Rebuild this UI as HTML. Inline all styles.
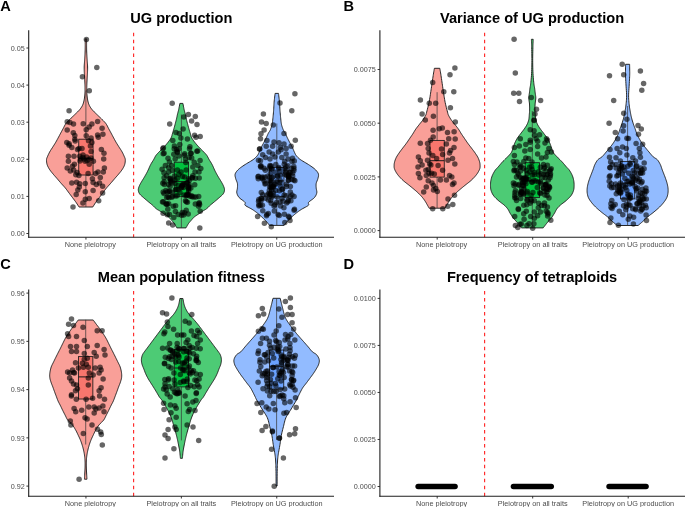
<!DOCTYPE html>
<html><head><meta charset="utf-8"><style>
html,body{margin:0;padding:0;background:#fff;}
body{width:685px;height:507px;overflow:hidden;font-family:"Liberation Sans",sans-serif;}
svg{display:block;}
text{will-change:transform;}
</style></head><body>
<svg width="685" height="507" viewBox="0 0 685 507">
<rect width="685" height="507" fill="#fff"/>
<text x="181.3" y="22.9" font-family="Liberation Sans" font-weight="bold" font-size="14.6" text-anchor="middle" fill="#000">UG production</text>
<text x="0.3" y="10.9" font-family="Liberation Sans" font-weight="bold" font-size="14.6" fill="#000">A</text>
<line x1="133.62" y1="32.7" x2="133.62" y2="237.3" stroke="#ff1f1f" stroke-width="1.1" stroke-dasharray="3.5 3.45"/>
<path d="M86.70,38.90 L86.69,39.21 L86.67,39.60 L86.65,40.09 L86.63,40.65 L86.61,41.29 L86.60,42.00 L86.59,42.80 L86.59,43.71 L86.58,44.69 L86.58,45.72 L86.59,46.77 L86.60,47.80 L86.62,48.83 L86.64,49.89 L86.67,50.96 L86.71,52.04 L86.75,53.13 L86.80,54.20 L86.86,55.27 L86.92,56.33 L86.99,57.40 L87.06,58.47 L87.13,59.53 L87.20,60.60 L87.27,61.67 L87.35,62.73 L87.43,63.79 L87.51,64.86 L87.57,65.93 L87.60,67.00 L87.61,68.08 L87.60,69.16 L87.58,70.25 L87.54,71.34 L87.50,72.42 L87.45,73.50 L87.40,74.57 L87.33,75.64 L87.26,76.71 L87.18,77.77 L87.11,78.83 L87.05,79.90 L87.00,80.97 L86.94,82.03 L86.90,83.10 L86.86,84.17 L86.82,85.23 L86.80,86.30 L86.78,87.37 L86.77,88.43 L86.77,89.50 L86.78,90.57 L86.80,91.63 L86.85,92.70 L86.91,93.78 L86.99,94.86 L87.08,95.95 L87.20,97.03 L87.34,98.08 L87.50,99.10 L87.68,100.09 L87.88,101.06 L88.10,102.00 L88.36,102.92 L88.65,103.82 L89.00,104.70 L89.39,105.55 L89.83,106.36 L90.31,107.16 L90.83,107.94 L91.39,108.72 L92.00,109.50 L92.67,110.29 L93.40,111.07 L94.18,111.86 L94.99,112.64 L95.80,113.42 L96.60,114.20 L97.41,114.98 L98.23,115.77 L99.06,116.55 L99.89,117.33 L100.71,118.12 L101.50,118.90 L102.28,119.68 L103.07,120.46 L103.84,121.24 L104.58,122.03 L105.27,122.81 L105.90,123.60 L106.44,124.40 L106.92,125.20 L107.34,126.00 L107.74,126.80 L108.13,127.60 L108.55,128.40 L108.98,129.19 L109.41,129.97 L109.83,130.76 L110.26,131.54 L110.68,132.32 L111.10,133.10 L111.52,133.88 L111.93,134.66 L112.34,135.44 L112.76,136.23 L113.18,137.01 L113.60,137.80 L114.03,138.60 L114.46,139.40 L114.90,140.20 L115.34,141.00 L115.79,141.80 L116.25,142.60 L116.72,143.39 L117.21,144.17 L117.71,144.96 L118.21,145.74 L118.70,146.52 L119.20,147.30 L119.70,148.08 L120.21,148.86 L120.72,149.64 L121.22,150.43 L121.70,151.21 L122.15,152.00 L122.58,152.82 L123.00,153.66 L123.40,154.51 L123.78,155.34 L124.11,156.11 L124.40,156.80 L124.65,157.37 L124.86,157.84 L125.03,158.25 L125.16,158.66 L125.25,159.13 L125.30,159.70 L125.31,160.39 L125.27,161.16 L125.20,161.99 L125.08,162.84 L124.92,163.68 L124.70,164.50 L124.43,165.29 L124.11,166.07 L123.74,166.86 L123.33,167.64 L122.88,168.42 L122.40,169.20 L121.88,169.98 L121.31,170.77 L120.71,171.55 L120.09,172.33 L119.44,173.12 L118.80,173.90 L118.15,174.68 L117.47,175.46 L116.78,176.24 L116.09,177.03 L115.39,177.81 L114.70,178.60 L114.02,179.40 L113.34,180.20 L112.66,181.00 L111.97,181.80 L111.29,182.60 L110.60,183.40 L109.90,184.19 L109.18,184.97 L108.46,185.76 L107.75,186.54 L107.06,187.32 L106.40,188.10 L105.78,188.88 L105.19,189.66 L104.61,190.44 L104.05,191.23 L103.48,192.01 L102.90,192.80 L102.30,193.60 L101.70,194.40 L101.10,195.20 L100.50,196.00 L99.90,196.80 L99.30,197.60 L98.71,198.39 L98.11,199.17 L97.51,199.96 L96.93,200.74 L96.35,201.52 L95.80,202.30 L95.24,203.14 L94.65,204.04 L94.08,204.94 L93.56,205.78 L93.12,206.49 L92.80,207.00 L79.00,207.00 L78.68,206.49 L78.24,205.78 L77.72,204.94 L77.15,204.04 L76.56,203.14 L76.00,202.30 L75.45,201.52 L74.87,200.74 L74.29,199.96 L73.69,199.17 L73.09,198.39 L72.50,197.60 L71.90,196.80 L71.30,196.00 L70.70,195.20 L70.10,194.40 L69.50,193.60 L68.90,192.80 L68.32,192.01 L67.75,191.23 L67.19,190.44 L66.61,189.66 L66.02,188.88 L65.40,188.10 L64.74,187.32 L64.05,186.54 L63.34,185.76 L62.62,184.97 L61.90,184.19 L61.20,183.40 L60.51,182.60 L59.83,181.80 L59.14,181.00 L58.46,180.20 L57.78,179.40 L57.10,178.60 L56.41,177.81 L55.71,177.03 L55.02,176.24 L54.33,175.46 L53.65,174.68 L53.00,173.90 L52.36,173.12 L51.71,172.33 L51.09,171.55 L50.49,170.77 L49.92,169.98 L49.40,169.20 L48.92,168.42 L48.47,167.64 L48.06,166.86 L47.69,166.07 L47.37,165.29 L47.10,164.50 L46.88,163.68 L46.72,162.84 L46.60,161.99 L46.53,161.16 L46.49,160.39 L46.50,159.70 L46.55,159.13 L46.64,158.66 L46.77,158.25 L46.94,157.84 L47.15,157.37 L47.40,156.80 L47.69,156.11 L48.02,155.34 L48.40,154.51 L48.80,153.66 L49.22,152.82 L49.65,152.00 L50.10,151.21 L50.58,150.43 L51.08,149.64 L51.59,148.86 L52.10,148.08 L52.60,147.30 L53.10,146.52 L53.59,145.74 L54.09,144.96 L54.59,144.17 L55.08,143.39 L55.55,142.60 L56.01,141.80 L56.46,141.00 L56.90,140.20 L57.34,139.40 L57.77,138.60 L58.20,137.80 L58.62,137.01 L59.04,136.23 L59.46,135.44 L59.87,134.66 L60.28,133.88 L60.70,133.10 L61.12,132.32 L61.54,131.54 L61.97,130.76 L62.39,129.97 L62.82,129.19 L63.25,128.40 L63.67,127.60 L64.06,126.80 L64.46,126.00 L64.88,125.20 L65.36,124.40 L65.90,123.60 L66.53,122.81 L67.22,122.03 L67.96,121.24 L68.73,120.46 L69.52,119.68 L70.30,118.90 L71.09,118.12 L71.91,117.33 L72.74,116.55 L73.57,115.77 L74.39,114.98 L75.20,114.20 L76.00,113.42 L76.81,112.64 L77.62,111.86 L78.40,111.07 L79.13,110.29 L79.80,109.50 L80.41,108.72 L80.97,107.94 L81.49,107.16 L81.97,106.36 L82.41,105.55 L82.80,104.70 L83.15,103.82 L83.44,102.92 L83.70,102.00 L83.92,101.06 L84.12,100.09 L84.30,99.10 L84.46,98.08 L84.60,97.03 L84.72,95.95 L84.81,94.86 L84.89,93.78 L84.95,92.70 L85.00,91.63 L85.02,90.57 L85.03,89.50 L85.03,88.43 L85.02,87.37 L85.00,86.30 L84.98,85.23 L84.94,84.17 L84.90,83.10 L84.86,82.03 L84.80,80.97 L84.75,79.90 L84.69,78.83 L84.62,77.77 L84.54,76.71 L84.47,75.64 L84.40,74.57 L84.35,73.50 L84.30,72.42 L84.26,71.34 L84.23,70.25 L84.20,69.16 L84.19,68.08 L84.20,67.00 L84.23,65.93 L84.29,64.86 L84.37,63.79 L84.45,62.73 L84.53,61.67 L84.60,60.60 L84.67,59.53 L84.74,58.47 L84.81,57.40 L84.88,56.33 L84.94,55.27 L85.00,54.20 L85.05,53.13 L85.09,52.04 L85.13,50.96 L85.16,49.89 L85.18,48.83 L85.20,47.80 L85.21,46.77 L85.22,45.72 L85.22,44.69 L85.21,43.71 L85.21,42.80 L85.20,42.00 L85.19,41.29 L85.17,40.65 L85.15,40.09 L85.13,39.60 L85.11,39.21 L85.10,38.90 Z" fill="#F99F98" stroke="#1e1e1e" stroke-width="0.95" stroke-linejoin="round"/>
<line x1="85.90" y1="90.5" x2="85.90" y2="207" stroke="#333" stroke-width="0.7"/>
<rect x="78.75" y="139.2" width="14.30" height="35.80" fill="#F8766D" stroke="#1a1a1a" stroke-width="0.85"/>
<line x1="78.75" y1="158.4" x2="93.05" y2="158.4" stroke="#1a1a1a" stroke-width="1.0"/>
<path d="M182.90,103.40 L183.03,104.08 L183.21,105.03 L183.42,106.16 L183.66,107.34 L183.89,108.49 L184.10,109.50 L184.30,110.36 L184.51,111.17 L184.71,111.94 L184.91,112.69 L185.11,113.43 L185.30,114.20 L185.48,114.98 L185.64,115.77 L185.80,116.55 L185.96,117.33 L186.12,118.12 L186.30,118.90 L186.49,119.68 L186.68,120.46 L186.88,121.24 L187.09,122.03 L187.29,122.81 L187.50,123.60 L187.71,124.40 L187.92,125.20 L188.14,126.00 L188.36,126.80 L188.58,127.60 L188.80,128.40 L189.03,129.19 L189.26,129.97 L189.49,130.76 L189.72,131.54 L189.96,132.32 L190.20,133.10 L190.42,133.88 L190.63,134.66 L190.83,135.44 L191.06,136.23 L191.34,137.01 L191.70,137.80 L192.14,138.60 L192.64,139.40 L193.19,140.20 L193.77,141.00 L194.38,141.80 L195.00,142.60 L195.63,143.39 L196.29,144.17 L196.96,144.96 L197.66,145.74 L198.37,146.52 L199.10,147.30 L199.87,148.10 L200.68,148.91 L201.51,149.73 L202.33,150.52 L203.10,151.29 L203.80,152.00 L204.42,152.64 L204.98,153.23 L205.50,153.78 L205.99,154.33 L206.45,154.89 L206.90,155.50 L207.32,156.15 L207.70,156.83 L208.06,157.52 L208.42,158.23 L208.79,158.96 L209.20,159.70 L209.65,160.46 L210.14,161.23 L210.64,162.02 L211.14,162.83 L211.63,163.65 L212.10,164.50 L212.55,165.39 L212.98,166.34 L213.41,167.31 L213.82,168.26 L214.22,169.17 L214.60,170.00 L214.96,170.74 L215.29,171.41 L215.61,172.04 L215.93,172.65 L216.26,173.26 L216.60,173.90 L216.96,174.56 L217.34,175.23 L217.73,175.90 L218.11,176.57 L218.51,177.24 L218.90,177.90 L219.30,178.55 L219.70,179.20 L220.11,179.85 L220.52,180.50 L220.92,181.15 L221.30,181.80 L221.68,182.46 L222.06,183.13 L222.43,183.80 L222.79,184.47 L223.11,185.14 L223.40,185.80 L223.67,186.45 L223.93,187.10 L224.16,187.75 L224.34,188.40 L224.46,189.05 L224.50,189.70 L224.47,190.36 L224.37,191.03 L224.22,191.70 L223.99,192.37 L223.69,193.04 L223.30,193.70 L222.80,194.35 L222.20,195.00 L221.52,195.65 L220.79,196.30 L220.04,196.95 L219.30,197.60 L218.56,198.26 L217.79,198.93 L216.99,199.60 L216.19,200.27 L215.39,200.94 L214.60,201.60 L213.79,202.28 L212.93,202.97 L212.08,203.67 L211.27,204.34 L210.53,204.96 L209.90,205.50 L209.42,205.96 L209.05,206.34 L208.76,206.67 L208.50,206.98 L208.23,207.28 L207.90,207.60 L207.52,207.94 L207.13,208.27 L206.72,208.60 L206.31,208.92 L205.90,209.22 L205.50,209.50 L205.14,209.73 L204.81,209.91 L204.48,210.08 L204.13,210.26 L203.71,210.49 L203.20,210.80 L202.58,211.21 L201.87,211.70 L201.09,212.23 L200.29,212.79 L199.48,213.36 L198.70,213.90 L197.92,214.43 L197.11,214.96 L196.30,215.49 L195.51,216.03 L194.77,216.57 L194.10,217.10 L193.51,217.63 L193.00,218.17 L192.53,218.71 L192.08,219.24 L191.65,219.77 L191.20,220.30 L190.74,220.82 L190.29,221.34 L189.84,221.85 L189.40,222.36 L188.99,222.88 L188.60,223.40 L188.23,223.95 L187.87,224.53 L187.53,225.11 L187.22,225.67 L186.94,226.18 L186.70,226.60 L186.51,226.94 L186.35,227.22 L186.23,227.45 L186.14,227.63 L186.06,227.78 L186.00,227.90 L176.80,227.90 L176.74,227.78 L176.66,227.63 L176.57,227.45 L176.45,227.22 L176.29,226.94 L176.10,226.60 L175.86,226.18 L175.58,225.67 L175.27,225.11 L174.93,224.53 L174.57,223.95 L174.20,223.40 L173.81,222.88 L173.40,222.36 L172.96,221.85 L172.51,221.34 L172.06,220.82 L171.60,220.30 L171.15,219.77 L170.72,219.24 L170.28,218.71 L169.80,218.17 L169.29,217.63 L168.70,217.10 L168.03,216.57 L167.29,216.03 L166.50,215.49 L165.69,214.96 L164.88,214.43 L164.10,213.90 L163.32,213.36 L162.51,212.79 L161.71,212.23 L160.93,211.70 L160.22,211.21 L159.60,210.80 L159.09,210.49 L158.67,210.26 L158.32,210.08 L157.99,209.91 L157.66,209.73 L157.30,209.50 L156.90,209.22 L156.49,208.92 L156.08,208.60 L155.67,208.27 L155.28,207.94 L154.90,207.60 L154.57,207.28 L154.30,206.98 L154.04,206.67 L153.75,206.34 L153.38,205.96 L152.90,205.50 L152.27,204.96 L151.53,204.34 L150.72,203.67 L149.87,202.97 L149.01,202.28 L148.20,201.60 L147.41,200.94 L146.61,200.27 L145.81,199.60 L145.01,198.93 L144.24,198.26 L143.50,197.60 L142.76,196.95 L142.01,196.30 L141.28,195.65 L140.60,195.00 L140.00,194.35 L139.50,193.70 L139.11,193.04 L138.81,192.37 L138.58,191.70 L138.43,191.03 L138.33,190.36 L138.30,189.70 L138.34,189.05 L138.46,188.40 L138.64,187.75 L138.87,187.10 L139.13,186.45 L139.40,185.80 L139.69,185.14 L140.01,184.47 L140.37,183.80 L140.74,183.13 L141.12,182.46 L141.50,181.80 L141.88,181.15 L142.28,180.50 L142.69,179.85 L143.10,179.20 L143.50,178.55 L143.90,177.90 L144.29,177.24 L144.69,176.57 L145.07,175.90 L145.46,175.23 L145.84,174.56 L146.20,173.90 L146.54,173.26 L146.87,172.65 L147.19,172.04 L147.51,171.41 L147.84,170.74 L148.20,170.00 L148.58,169.17 L148.98,168.26 L149.39,167.31 L149.82,166.34 L150.25,165.39 L150.70,164.50 L151.17,163.65 L151.66,162.83 L152.16,162.02 L152.66,161.23 L153.15,160.46 L153.60,159.70 L154.01,158.96 L154.38,158.23 L154.74,157.52 L155.10,156.83 L155.48,156.15 L155.90,155.50 L156.35,154.89 L156.81,154.33 L157.30,153.78 L157.82,153.23 L158.38,152.64 L159.00,152.00 L159.70,151.29 L160.47,150.52 L161.29,149.73 L162.12,148.91 L162.93,148.10 L163.70,147.30 L164.43,146.52 L165.14,145.74 L165.84,144.96 L166.51,144.17 L167.17,143.39 L167.80,142.60 L168.42,141.80 L169.03,141.00 L169.61,140.20 L170.16,139.40 L170.66,138.60 L171.10,137.80 L171.46,137.01 L171.74,136.23 L171.97,135.44 L172.17,134.66 L172.38,133.88 L172.60,133.10 L172.84,132.32 L173.08,131.54 L173.31,130.76 L173.54,129.97 L173.77,129.19 L174.00,128.40 L174.22,127.60 L174.44,126.80 L174.66,126.00 L174.88,125.20 L175.09,124.40 L175.30,123.60 L175.51,122.81 L175.71,122.03 L175.92,121.24 L176.12,120.46 L176.31,119.68 L176.50,118.90 L176.68,118.12 L176.84,117.33 L177.00,116.55 L177.16,115.77 L177.32,114.98 L177.50,114.20 L177.69,113.43 L177.89,112.69 L178.09,111.94 L178.29,111.17 L178.50,110.36 L178.70,109.50 L178.91,108.49 L179.14,107.34 L179.38,106.16 L179.59,105.03 L179.77,104.08 L179.90,103.40 Z" fill="#4DCB75" stroke="#1e1e1e" stroke-width="0.95" stroke-linejoin="round"/>
<line x1="181.40" y1="114.5" x2="181.40" y2="228" stroke="#333" stroke-width="0.7"/>
<rect x="174.25" y="162.2" width="14.30" height="34.10" fill="#00C23D" stroke="#1a1a1a" stroke-width="0.85"/>
<line x1="174.25" y1="181.6" x2="188.55" y2="181.6" stroke="#1a1a1a" stroke-width="1.0"/>
<path d="M278.50,93.40 L278.51,93.52 L278.53,93.64 L278.55,93.81 L278.58,94.07 L278.63,94.48 L278.70,95.10 L278.80,95.97 L278.94,97.07 L279.09,98.31 L279.24,99.63 L279.38,100.95 L279.50,102.20 L279.59,103.38 L279.66,104.57 L279.71,105.75 L279.77,106.93 L279.83,108.12 L279.90,109.30 L279.99,110.48 L280.08,111.67 L280.18,112.85 L280.28,114.03 L280.39,115.22 L280.50,116.40 L280.62,117.62 L280.75,118.90 L280.88,120.18 L281.02,121.40 L281.16,122.53 L281.30,123.50 L281.44,124.29 L281.57,124.93 L281.71,125.47 L281.86,125.96 L282.02,126.45 L282.20,127.00 L282.40,127.61 L282.62,128.23 L282.86,128.86 L283.10,129.48 L283.35,130.06 L283.60,130.60 L283.85,131.06 L284.10,131.44 L284.36,131.79 L284.62,132.15 L284.90,132.57 L285.20,133.10 L285.52,133.74 L285.85,134.47 L286.19,135.25 L286.55,136.07 L286.92,136.89 L287.30,137.70 L287.69,138.50 L288.10,139.32 L288.53,140.14 L288.95,140.97 L289.38,141.79 L289.80,142.60 L290.22,143.40 L290.65,144.19 L291.08,144.97 L291.50,145.75 L291.91,146.52 L292.30,147.30 L292.66,148.08 L293.01,148.88 L293.34,149.67 L293.66,150.44 L293.98,151.19 L294.30,151.90 L294.60,152.55 L294.86,153.16 L295.11,153.73 L295.40,154.30 L295.75,154.88 L296.20,155.50 L296.72,156.15 L297.29,156.80 L297.92,157.47 L298.63,158.16 L299.45,158.86 L300.40,159.60 L301.53,160.37 L302.84,161.18 L304.26,162.01 L305.70,162.85 L307.11,163.69 L308.40,164.50 L309.60,165.29 L310.79,166.08 L311.93,166.86 L313.01,167.64 L314.01,168.42 L314.90,169.20 L315.70,169.98 L316.44,170.77 L317.09,171.55 L317.64,172.33 L318.08,173.12 L318.40,173.90 L318.56,174.68 L318.57,175.46 L318.48,176.24 L318.30,177.03 L318.10,177.81 L317.90,178.60 L317.67,179.40 L317.36,180.20 L317.02,181.00 L316.69,181.80 L316.40,182.60 L316.20,183.40 L316.09,184.19 L316.05,184.97 L316.06,185.76 L316.09,186.54 L316.15,187.32 L316.20,188.10 L316.30,188.88 L316.47,189.66 L316.65,190.44 L316.80,191.23 L316.87,192.01 L316.80,192.80 L316.61,193.60 L316.35,194.40 L316.00,195.20 L315.56,196.00 L315.03,196.80 L314.40,197.60 L313.57,198.41 L312.51,199.24 L311.36,200.06 L310.24,200.86 L309.28,201.62 L308.60,202.30 L308.32,202.89 L308.36,203.39 L308.56,203.85 L308.74,204.30 L308.74,204.77 L308.40,205.30 L307.64,205.91 L306.57,206.56 L305.32,207.24 L304.02,207.92 L302.77,208.58 L301.70,209.20 L300.80,209.78 L299.98,210.32 L299.21,210.85 L298.49,211.37 L297.79,211.88 L297.10,212.40 L296.43,212.92 L295.79,213.44 L295.18,213.95 L294.58,214.46 L293.99,214.98 L293.40,215.50 L292.81,216.03 L292.23,216.56 L291.66,217.10 L291.10,217.64 L290.55,218.17 L290.00,218.70 L289.46,219.22 L288.93,219.72 L288.41,220.22 L287.90,220.73 L287.40,221.26 L286.90,221.80 L286.38,222.41 L285.84,223.10 L285.31,223.79 L284.81,224.45 L284.40,225.00 L284.10,225.40 L269.50,225.40 L269.20,225.00 L268.79,224.45 L268.29,223.79 L267.76,223.10 L267.22,222.41 L266.70,221.80 L266.20,221.26 L265.70,220.73 L265.19,220.22 L264.67,219.72 L264.14,219.22 L263.60,218.70 L263.05,218.17 L262.50,217.64 L261.94,217.10 L261.37,216.56 L260.79,216.03 L260.20,215.50 L259.61,214.98 L259.02,214.46 L258.42,213.95 L257.81,213.44 L257.17,212.92 L256.50,212.40 L255.81,211.88 L255.11,211.37 L254.39,210.85 L253.62,210.32 L252.80,209.78 L251.90,209.20 L250.83,208.58 L249.58,207.92 L248.28,207.24 L247.03,206.56 L245.96,205.91 L245.20,205.30 L244.86,204.77 L244.86,204.30 L245.04,203.85 L245.24,203.39 L245.28,202.89 L245.00,202.30 L244.32,201.62 L243.36,200.86 L242.24,200.06 L241.09,199.24 L240.03,198.41 L239.20,197.60 L238.57,196.80 L238.04,196.00 L237.60,195.20 L237.25,194.40 L236.99,193.60 L236.80,192.80 L236.73,192.01 L236.80,191.23 L236.95,190.44 L237.13,189.66 L237.30,188.88 L237.40,188.10 L237.45,187.32 L237.51,186.54 L237.54,185.76 L237.55,184.97 L237.51,184.19 L237.40,183.40 L237.20,182.60 L236.91,181.80 L236.58,181.00 L236.24,180.20 L235.93,179.40 L235.70,178.60 L235.50,177.81 L235.30,177.03 L235.12,176.24 L235.03,175.46 L235.04,174.68 L235.20,173.90 L235.52,173.12 L235.96,172.33 L236.51,171.55 L237.16,170.77 L237.90,169.98 L238.70,169.20 L239.59,168.42 L240.59,167.64 L241.67,166.86 L242.81,166.08 L244.00,165.29 L245.20,164.50 L246.49,163.69 L247.90,162.85 L249.34,162.01 L250.76,161.18 L252.07,160.37 L253.20,159.60 L254.15,158.86 L254.97,158.16 L255.68,157.47 L256.31,156.80 L256.88,156.15 L257.40,155.50 L257.85,154.88 L258.20,154.30 L258.49,153.73 L258.74,153.16 L259.00,152.55 L259.30,151.90 L259.62,151.19 L259.94,150.44 L260.26,149.67 L260.59,148.88 L260.94,148.08 L261.30,147.30 L261.69,146.52 L262.10,145.75 L262.52,144.97 L262.95,144.19 L263.38,143.40 L263.80,142.60 L264.22,141.79 L264.65,140.97 L265.07,140.14 L265.50,139.32 L265.91,138.50 L266.30,137.70 L266.68,136.89 L267.05,136.07 L267.41,135.25 L267.75,134.47 L268.08,133.74 L268.40,133.10 L268.70,132.57 L268.98,132.15 L269.24,131.79 L269.50,131.44 L269.75,131.06 L270.00,130.60 L270.25,130.06 L270.50,129.48 L270.74,128.86 L270.98,128.23 L271.20,127.61 L271.40,127.00 L271.58,126.45 L271.74,125.96 L271.89,125.47 L272.03,124.93 L272.16,124.29 L272.30,123.50 L272.44,122.53 L272.58,121.40 L272.72,120.18 L272.85,118.90 L272.98,117.62 L273.10,116.40 L273.21,115.22 L273.32,114.03 L273.43,112.85 L273.52,111.67 L273.61,110.48 L273.70,109.30 L273.77,108.12 L273.83,106.93 L273.89,105.75 L273.94,104.57 L274.01,103.38 L274.10,102.20 L274.22,100.95 L274.36,99.63 L274.51,98.31 L274.66,97.07 L274.80,95.97 L274.90,95.10 L274.97,94.48 L275.02,94.07 L275.05,93.81 L275.07,93.64 L275.09,93.52 L275.10,93.40 Z" fill="#92BBFF" stroke="#1e1e1e" stroke-width="0.95" stroke-linejoin="round"/>
<line x1="276.80" y1="123.5" x2="276.80" y2="225" stroke="#333" stroke-width="0.7"/>
<rect x="269.65" y="167.5" width="14.30" height="29.30" fill="#6aa2ff" stroke="#1a1a1a" stroke-width="0.85"/>
<line x1="269.65" y1="180.9" x2="283.95" y2="180.9" stroke="#1a1a1a" stroke-width="1.0"/>
<g fill="#000" fill-opacity="0.6"><circle cx="86.4" cy="39.5" r="2.75"/><circle cx="96.8" cy="67.5" r="2.75"/><circle cx="82.4" cy="76.7" r="2.75"/><circle cx="89.3" cy="90.7" r="2.75"/><circle cx="69.1" cy="110.8" r="2.75"/><circle cx="67.2" cy="121.8" r="2.75"/><circle cx="69.9" cy="122.5" r="2.75"/><circle cx="73.5" cy="124.0" r="2.75"/><circle cx="83.2" cy="123.7" r="2.75"/><circle cx="91.9" cy="124.0" r="2.75"/><circle cx="97.6" cy="121.4" r="2.75"/><circle cx="89.2" cy="127.1" r="2.75"/><circle cx="86.2" cy="129.7" r="2.75"/><circle cx="67.2" cy="130.1" r="2.75"/><circle cx="73.3" cy="132.8" r="2.75"/><circle cx="74.8" cy="135.4" r="2.75"/><circle cx="102.1" cy="128.2" r="2.75"/><circle cx="102.9" cy="134.3" r="2.75"/><circle cx="97.6" cy="135.1" r="2.75"/><circle cx="98.3" cy="137.3" r="2.75"/><circle cx="86.2" cy="135.8" r="2.75"/><circle cx="91.1" cy="138.1" r="2.75"/><circle cx="74.8" cy="139.2" r="2.75"/><circle cx="75.2" cy="141.1" r="2.75"/><circle cx="66.8" cy="142.6" r="2.75"/><circle cx="69.1" cy="143.8" r="2.75"/><circle cx="88.5" cy="140.8" r="2.75"/><circle cx="91.9" cy="142.6" r="2.75"/><circle cx="69.1" cy="145.3" r="2.75"/><circle cx="71.8" cy="147.6" r="2.75"/><circle cx="77.5" cy="149.5" r="2.75"/><circle cx="82.0" cy="148.4" r="2.75"/><circle cx="90.4" cy="146.1" r="2.75"/><circle cx="91.1" cy="151.4" r="2.75"/><circle cx="101.4" cy="149.5" r="2.75"/><circle cx="104.0" cy="153.3" r="2.75"/><circle cx="103.7" cy="159.0" r="2.75"/><circle cx="68.4" cy="156.3" r="2.75"/><circle cx="74.0" cy="156.3" r="2.75"/><circle cx="79.7" cy="156.3" r="2.75"/><circle cx="82.8" cy="157.5" r="2.75"/><circle cx="86.6" cy="157.1" r="2.75"/><circle cx="88.9" cy="159.4" r="2.75"/><circle cx="93.4" cy="161.3" r="2.75"/><circle cx="85.1" cy="161.3" r="2.75"/><circle cx="89.2" cy="164.3" r="2.75"/><circle cx="68.4" cy="161.3" r="2.75"/><circle cx="74.4" cy="164.3" r="2.75"/><circle cx="72.5" cy="166.2" r="2.75"/><circle cx="67.2" cy="168.1" r="2.75"/><circle cx="73.7" cy="170.0" r="2.75"/><circle cx="70.3" cy="171.1" r="2.75"/><circle cx="77.1" cy="172.6" r="2.75"/><circle cx="88.1" cy="173.4" r="2.75"/><circle cx="104.4" cy="168.1" r="2.75"/><circle cx="103.3" cy="171.9" r="2.75"/><circle cx="98.0" cy="171.9" r="2.75"/><circle cx="95.7" cy="173.4" r="2.75"/><circle cx="80.5" cy="159.0" r="2.75"/><circle cx="79.0" cy="148.4" r="2.75"/><circle cx="84.0" cy="159.0" r="2.75"/><circle cx="87.0" cy="160.5" r="2.75"/><circle cx="91.0" cy="158.0" r="2.75"/><circle cx="80.0" cy="161.0" r="2.75"/><circle cx="83.0" cy="155.0" r="2.75"/><circle cx="75.8" cy="174.7" r="2.75"/><circle cx="78.9" cy="175.5" r="2.75"/><circle cx="100.3" cy="177.5" r="2.75"/><circle cx="92.4" cy="178.7" r="2.75"/><circle cx="71.8" cy="183.0" r="2.75"/><circle cx="76.6" cy="182.2" r="2.75"/><circle cx="79.7" cy="183.8" r="2.75"/><circle cx="85.3" cy="183.4" r="2.75"/><circle cx="93.1" cy="182.6" r="2.75"/><circle cx="96.3" cy="184.6" r="2.75"/><circle cx="99.5" cy="183.0" r="2.75"/><circle cx="102.6" cy="186.2" r="2.75"/><circle cx="79.3" cy="187.0" r="2.75"/><circle cx="77.8" cy="190.1" r="2.75"/><circle cx="85.3" cy="191.7" r="2.75"/><circle cx="93.1" cy="190.5" r="2.75"/><circle cx="76.2" cy="194.5" r="2.75"/><circle cx="102.6" cy="192.9" r="2.75"/><circle cx="85.3" cy="199.2" r="2.75"/><circle cx="89.2" cy="198.4" r="2.75"/><circle cx="82.9" cy="203.1" r="2.75"/><circle cx="98.7" cy="200.8" r="2.75"/><circle cx="73.0" cy="207.1" r="2.75"/></g>
<g fill="#000" fill-opacity="0.6"><circle cx="193.8" cy="197.0" r="2.75"/><circle cx="169.8" cy="191.3" r="2.75"/><circle cx="167.1" cy="204.2" r="2.75"/><circle cx="169.0" cy="197.8" r="2.75"/><circle cx="198.8" cy="203.6" r="2.75"/><circle cx="168.0" cy="196.8" r="2.75"/><circle cx="175.4" cy="211.5" r="2.75"/><circle cx="199.2" cy="178.1" r="2.75"/><circle cx="178.2" cy="185.6" r="2.75"/><circle cx="182.3" cy="212.4" r="2.75"/><circle cx="183.5" cy="187.4" r="2.75"/><circle cx="182.1" cy="185.9" r="2.75"/><circle cx="182.9" cy="184.2" r="2.75"/><circle cx="164.3" cy="184.5" r="2.75"/><circle cx="200.2" cy="211.2" r="2.75"/><circle cx="188.2" cy="214.1" r="2.75"/><circle cx="174.8" cy="180.0" r="2.75"/><circle cx="198.6" cy="206.3" r="2.75"/><circle cx="188.9" cy="186.7" r="2.75"/><circle cx="168.7" cy="203.7" r="2.75"/><circle cx="182.8" cy="184.9" r="2.75"/><circle cx="162.5" cy="201.9" r="2.75"/><circle cx="185.5" cy="200.8" r="2.75"/><circle cx="181.6" cy="215.3" r="2.75"/><circle cx="198.7" cy="196.5" r="2.75"/><circle cx="195.8" cy="197.0" r="2.75"/><circle cx="177.4" cy="178.3" r="2.75"/><circle cx="182.1" cy="185.5" r="2.75"/><circle cx="188.7" cy="188.9" r="2.75"/><circle cx="179.9" cy="192.6" r="2.75"/><circle cx="170.1" cy="186.4" r="2.75"/><circle cx="175.0" cy="183.5" r="2.75"/><circle cx="188.7" cy="191.0" r="2.75"/><circle cx="176.2" cy="189.5" r="2.75"/><circle cx="186.3" cy="201.8" r="2.75"/><circle cx="189.3" cy="180.3" r="2.75"/><circle cx="188.5" cy="178.7" r="2.75"/><circle cx="172.4" cy="196.3" r="2.75"/><circle cx="175.5" cy="189.7" r="2.75"/><circle cx="169.5" cy="178.5" r="2.75"/><circle cx="175.7" cy="196.1" r="2.75"/><circle cx="173.8" cy="217.6" r="2.75"/><circle cx="169.6" cy="214.6" r="2.75"/><circle cx="171.2" cy="180.9" r="2.75"/><circle cx="166.7" cy="197.4" r="2.75"/><circle cx="164.0" cy="193.4" r="2.75"/><circle cx="170.2" cy="181.8" r="2.75"/><circle cx="199.6" cy="204.4" r="2.75"/><circle cx="165.9" cy="190.6" r="2.75"/><circle cx="187.4" cy="202.3" r="2.75"/><circle cx="192.0" cy="196.7" r="2.75"/><circle cx="184.7" cy="184.3" r="2.75"/><circle cx="178.2" cy="214.5" r="2.75"/><circle cx="195.4" cy="178.2" r="2.75"/><circle cx="187.4" cy="194.0" r="2.75"/><circle cx="164.1" cy="177.8" r="2.75"/><circle cx="167.2" cy="192.0" r="2.75"/><circle cx="166.6" cy="204.1" r="2.75"/><circle cx="181.4" cy="187.4" r="2.75"/><circle cx="170.8" cy="179.8" r="2.75"/><circle cx="184.7" cy="212.8" r="2.75"/><circle cx="194.7" cy="184.7" r="2.75"/><circle cx="192.2" cy="177.7" r="2.75"/><circle cx="171.4" cy="182.9" r="2.75"/><circle cx="187.6" cy="194.8" r="2.75"/><circle cx="195.3" cy="204.0" r="2.75"/><circle cx="188.4" cy="194.7" r="2.75"/><circle cx="171.9" cy="197.2" r="2.75"/><circle cx="168.9" cy="191.6" r="2.75"/><circle cx="186.6" cy="195.5" r="2.75"/><circle cx="163.3" cy="201.8" r="2.75"/><circle cx="186.2" cy="210.3" r="2.75"/><circle cx="170.6" cy="178.3" r="2.75"/><circle cx="165.9" cy="203.9" r="2.75"/><circle cx="183.7" cy="215.1" r="2.75"/><circle cx="192.4" cy="177.8" r="2.75"/><circle cx="167.3" cy="214.7" r="2.75"/><circle cx="173.3" cy="206.3" r="2.75"/><circle cx="188.3" cy="187.1" r="2.75"/><circle cx="190.1" cy="196.3" r="2.75"/><circle cx="199.3" cy="202.8" r="2.75"/><circle cx="189.1" cy="184.6" r="2.75"/><circle cx="178.1" cy="189.8" r="2.75"/><circle cx="177.2" cy="195.8" r="2.75"/><circle cx="190.9" cy="188.0" r="2.75"/><circle cx="168.5" cy="184.5" r="2.75"/><circle cx="186.2" cy="195.6" r="2.75"/><circle cx="171.7" cy="192.2" r="2.75"/><circle cx="175.6" cy="205.8" r="2.75"/><circle cx="191.6" cy="195.8" r="2.75"/><circle cx="184.0" cy="195.0" r="2.75"/><circle cx="162.8" cy="183.3" r="2.75"/><circle cx="181.1" cy="187.8" r="2.75"/><circle cx="164.2" cy="181.7" r="2.75"/><circle cx="187.4" cy="183.0" r="2.75"/><circle cx="184.7" cy="177.1" r="2.75"/><circle cx="163.2" cy="191.9" r="2.75"/><circle cx="186.8" cy="182.8" r="2.75"/><circle cx="188.4" cy="188.3" r="2.75"/><circle cx="167.8" cy="209.3" r="2.75"/><circle cx="183.9" cy="117.1" r="2.75"/><circle cx="183.1" cy="129.1" r="2.75"/><circle cx="176.0" cy="132.6" r="2.75"/><circle cx="179.3" cy="133.6" r="2.75"/><circle cx="180.9" cy="138.0" r="2.75"/><circle cx="187.4" cy="139.1" r="2.75"/><circle cx="172.8" cy="140.4" r="2.75"/><circle cx="179.8" cy="144.5" r="2.75"/><circle cx="174.4" cy="146.1" r="2.75"/><circle cx="189.9" cy="146.7" r="2.75"/><circle cx="177.1" cy="151.5" r="2.75"/><circle cx="197.7" cy="151.0" r="2.75"/><circle cx="164.1" cy="153.2" r="2.75"/><circle cx="191.2" cy="153.2" r="2.75"/><circle cx="184.7" cy="153.7" r="2.75"/><circle cx="162.8" cy="148.7" r="2.75"/><circle cx="163.2" cy="153.8" r="2.75"/><circle cx="174.2" cy="148.7" r="2.75"/><circle cx="178.9" cy="148.7" r="2.75"/><circle cx="189.5" cy="148.7" r="2.75"/><circle cx="196.8" cy="151.3" r="2.75"/><circle cx="173.8" cy="154.2" r="2.75"/><circle cx="177.4" cy="152.4" r="2.75"/><circle cx="178.9" cy="156.0" r="2.75"/><circle cx="184.4" cy="155.3" r="2.75"/><circle cx="185.5" cy="159.0" r="2.75"/><circle cx="190.6" cy="153.5" r="2.75"/><circle cx="191.7" cy="157.9" r="2.75"/><circle cx="168.0" cy="158.2" r="2.75"/><circle cx="169.4" cy="161.9" r="2.75"/><circle cx="200.1" cy="160.4" r="2.75"/><circle cx="197.9" cy="165.5" r="2.75"/><circle cx="194.2" cy="162.2" r="2.75"/><circle cx="192.8" cy="167.0" r="2.75"/><circle cx="200.8" cy="168.4" r="2.75"/><circle cx="165.4" cy="165.5" r="2.75"/><circle cx="162.1" cy="169.2" r="2.75"/><circle cx="168.7" cy="167.7" r="2.75"/><circle cx="171.6" cy="165.5" r="2.75"/><circle cx="163.9" cy="172.8" r="2.75"/><circle cx="168.7" cy="172.1" r="2.75"/><circle cx="172.3" cy="170.6" r="2.75"/><circle cx="177.4" cy="169.9" r="2.75"/><circle cx="181.1" cy="172.1" r="2.75"/><circle cx="186.2" cy="169.9" r="2.75"/><circle cx="185.8" cy="162.6" r="2.75"/><circle cx="178.9" cy="174.3" r="2.75"/><circle cx="195.0" cy="172.1" r="2.75"/><circle cx="199.0" cy="172.1" r="2.75"/><circle cx="192.8" cy="175.7" r="2.75"/><circle cx="166.5" cy="175.7" r="2.75"/><circle cx="174.5" cy="176.1" r="2.75"/><circle cx="182.5" cy="176.5" r="2.75"/><circle cx="176.7" cy="149.5" r="2.75"/><circle cx="175.2" cy="159.0" r="2.75"/><circle cx="189.1" cy="157.5" r="2.75"/><circle cx="172.2" cy="103.3" r="2.75"/><circle cx="169.7" cy="124.1" r="2.75"/><circle cx="188.4" cy="114.4" r="2.75"/><circle cx="195.3" cy="116.5" r="2.75"/><circle cx="191.6" cy="121.1" r="2.75"/><circle cx="197.0" cy="124.5" r="2.75"/><circle cx="194.6" cy="135.2" r="2.75"/><circle cx="200.2" cy="136.6" r="2.75"/><circle cx="196.0" cy="137.3" r="2.75"/><circle cx="163.4" cy="147.7" r="2.75"/><circle cx="168.7" cy="222.9" r="2.75"/><circle cx="172.7" cy="225.1" r="2.75"/><circle cx="199.8" cy="228.1" r="2.75"/><circle cx="163.1" cy="213.3" r="2.75"/></g>
<g fill="#000" fill-opacity="0.6"><circle cx="290.2" cy="172.4" r="2.75"/><circle cx="288.5" cy="174.7" r="2.75"/><circle cx="272.2" cy="168.8" r="2.75"/><circle cx="294.1" cy="196.5" r="2.75"/><circle cx="276.5" cy="202.4" r="2.75"/><circle cx="286.0" cy="166.6" r="2.75"/><circle cx="270.8" cy="182.3" r="2.75"/><circle cx="270.4" cy="173.3" r="2.75"/><circle cx="275.8" cy="164.5" r="2.75"/><circle cx="262.8" cy="194.8" r="2.75"/><circle cx="292.0" cy="161.6" r="2.75"/><circle cx="278.9" cy="168.6" r="2.75"/><circle cx="277.5" cy="176.1" r="2.75"/><circle cx="265.5" cy="183.2" r="2.75"/><circle cx="288.3" cy="200.3" r="2.75"/><circle cx="280.1" cy="171.6" r="2.75"/><circle cx="294.1" cy="210.2" r="2.75"/><circle cx="262.4" cy="205.3" r="2.75"/><circle cx="277.6" cy="176.3" r="2.75"/><circle cx="268.4" cy="200.1" r="2.75"/><circle cx="287.8" cy="201.8" r="2.75"/><circle cx="272.0" cy="197.1" r="2.75"/><circle cx="291.9" cy="179.5" r="2.75"/><circle cx="274.9" cy="204.8" r="2.75"/><circle cx="275.8" cy="190.6" r="2.75"/><circle cx="277.1" cy="197.0" r="2.75"/><circle cx="262.8" cy="210.7" r="2.75"/><circle cx="293.8" cy="166.4" r="2.75"/><circle cx="289.3" cy="217.3" r="2.75"/><circle cx="258.3" cy="178.8" r="2.75"/><circle cx="282.0" cy="198.3" r="2.75"/><circle cx="260.5" cy="166.3" r="2.75"/><circle cx="270.3" cy="184.2" r="2.75"/><circle cx="281.9" cy="189.6" r="2.75"/><circle cx="273.4" cy="193.0" r="2.75"/><circle cx="271.4" cy="169.1" r="2.75"/><circle cx="294.3" cy="160.9" r="2.75"/><circle cx="271.8" cy="190.1" r="2.75"/><circle cx="265.5" cy="198.3" r="2.75"/><circle cx="270.1" cy="166.6" r="2.75"/><circle cx="266.9" cy="195.1" r="2.75"/><circle cx="262.4" cy="176.9" r="2.75"/><circle cx="265.0" cy="184.0" r="2.75"/><circle cx="280.2" cy="185.7" r="2.75"/><circle cx="272.6" cy="186.5" r="2.75"/><circle cx="264.8" cy="177.2" r="2.75"/><circle cx="282.7" cy="189.1" r="2.75"/><circle cx="274.3" cy="211.1" r="2.75"/><circle cx="264.1" cy="168.3" r="2.75"/><circle cx="269.9" cy="195.7" r="2.75"/><circle cx="273.5" cy="186.0" r="2.75"/><circle cx="270.1" cy="194.4" r="2.75"/><circle cx="279.5" cy="190.8" r="2.75"/><circle cx="270.0" cy="165.6" r="2.75"/><circle cx="294.5" cy="209.3" r="2.75"/><circle cx="270.7" cy="193.5" r="2.75"/><circle cx="274.0" cy="206.1" r="2.75"/><circle cx="271.2" cy="203.2" r="2.75"/><circle cx="293.9" cy="180.1" r="2.75"/><circle cx="271.2" cy="166.1" r="2.75"/><circle cx="286.7" cy="203.0" r="2.75"/><circle cx="280.0" cy="202.0" r="2.75"/><circle cx="258.8" cy="199.5" r="2.75"/><circle cx="290.9" cy="200.7" r="2.75"/><circle cx="288.7" cy="180.0" r="2.75"/><circle cx="266.5" cy="215.7" r="2.75"/><circle cx="290.1" cy="196.7" r="2.75"/><circle cx="293.9" cy="168.6" r="2.75"/><circle cx="261.5" cy="198.7" r="2.75"/><circle cx="284.8" cy="168.5" r="2.75"/><circle cx="294.9" cy="180.7" r="2.75"/><circle cx="271.1" cy="180.9" r="2.75"/><circle cx="274.7" cy="184.3" r="2.75"/><circle cx="278.9" cy="167.4" r="2.75"/><circle cx="277.0" cy="181.5" r="2.75"/><circle cx="286.4" cy="195.7" r="2.75"/><circle cx="288.6" cy="176.7" r="2.75"/><circle cx="284.7" cy="161.6" r="2.75"/><circle cx="280.4" cy="175.3" r="2.75"/><circle cx="259.0" cy="205.9" r="2.75"/><circle cx="261.3" cy="192.6" r="2.75"/><circle cx="288.3" cy="180.2" r="2.75"/><circle cx="280.2" cy="180.4" r="2.75"/><circle cx="284.2" cy="195.0" r="2.75"/><circle cx="291.5" cy="168.6" r="2.75"/><circle cx="275.6" cy="172.2" r="2.75"/><circle cx="293.9" cy="170.4" r="2.75"/><circle cx="284.9" cy="174.2" r="2.75"/><circle cx="273.5" cy="187.1" r="2.75"/><circle cx="270.7" cy="200.4" r="2.75"/><circle cx="269.7" cy="177.3" r="2.75"/><circle cx="267.5" cy="176.2" r="2.75"/><circle cx="284.4" cy="214.2" r="2.75"/><circle cx="284.8" cy="222.5" r="2.75"/><circle cx="269.5" cy="168.5" r="2.75"/><circle cx="261.0" cy="165.8" r="2.75"/><circle cx="279.3" cy="215.4" r="2.75"/><circle cx="290.4" cy="186.5" r="2.75"/><circle cx="291.9" cy="195.1" r="2.75"/><circle cx="265.3" cy="170.3" r="2.75"/><circle cx="290.3" cy="192.0" r="2.75"/><circle cx="280.6" cy="206.1" r="2.75"/><circle cx="283.0" cy="201.2" r="2.75"/><circle cx="260.5" cy="205.3" r="2.75"/><circle cx="269.5" cy="180.7" r="2.75"/><circle cx="289.5" cy="172.5" r="2.75"/><circle cx="258.0" cy="176.8" r="2.75"/><circle cx="286.5" cy="186.6" r="2.75"/><circle cx="260.5" cy="160.8" r="2.75"/><circle cx="272.9" cy="195.6" r="2.75"/><circle cx="272.0" cy="177.8" r="2.75"/><circle cx="270.9" cy="187.4" r="2.75"/><circle cx="284.2" cy="164.3" r="2.75"/><circle cx="258.5" cy="160.2" r="2.75"/><circle cx="278.1" cy="214.4" r="2.75"/><circle cx="287.9" cy="165.8" r="2.75"/><circle cx="288.4" cy="216.3" r="2.75"/><circle cx="261.1" cy="198.2" r="2.75"/><circle cx="266.9" cy="214.4" r="2.75"/><circle cx="272.8" cy="177.0" r="2.75"/><circle cx="286.4" cy="184.3" r="2.75"/><circle cx="261.4" cy="177.8" r="2.75"/><circle cx="261.0" cy="167.2" r="2.75"/><circle cx="283.9" cy="207.7" r="2.75"/><circle cx="286.7" cy="175.6" r="2.75"/><circle cx="258.6" cy="201.2" r="2.75"/><circle cx="275.5" cy="184.1" r="2.75"/><circle cx="289.0" cy="176.6" r="2.75"/><circle cx="292.7" cy="173.0" r="2.75"/><circle cx="269.6" cy="186.7" r="2.75"/><circle cx="288.3" cy="175.4" r="2.75"/><circle cx="292.7" cy="176.0" r="2.75"/><circle cx="268.3" cy="213.6" r="2.75"/><circle cx="288.6" cy="177.1" r="2.75"/><circle cx="261.1" cy="200.5" r="2.75"/><circle cx="258.5" cy="176.3" r="2.75"/><circle cx="268.8" cy="193.6" r="2.75"/><circle cx="264.2" cy="181.1" r="2.75"/><circle cx="286.5" cy="170.0" r="2.75"/><circle cx="280.0" cy="182.7" r="2.75"/><circle cx="271.5" cy="187.9" r="2.75"/><circle cx="258.8" cy="204.7" r="2.75"/><circle cx="269.3" cy="190.5" r="2.75"/><circle cx="285.7" cy="172.1" r="2.75"/><circle cx="262.6" cy="178.7" r="2.75"/><circle cx="266.9" cy="140.5" r="2.75"/><circle cx="274.0" cy="142.0" r="2.75"/><circle cx="279.0" cy="142.7" r="2.75"/><circle cx="284.0" cy="144.1" r="2.75"/><circle cx="272.6" cy="146.2" r="2.75"/><circle cx="266.2" cy="146.2" r="2.75"/><circle cx="280.4" cy="147.6" r="2.75"/><circle cx="286.1" cy="148.4" r="2.75"/><circle cx="291.1" cy="146.2" r="2.75"/><circle cx="269.1" cy="151.9" r="2.75"/><circle cx="272.6" cy="154.0" r="2.75"/><circle cx="278.3" cy="151.9" r="2.75"/><circle cx="281.1" cy="149.8" r="2.75"/><circle cx="286.1" cy="154.0" r="2.75"/><circle cx="262.7" cy="154.7" r="2.75"/><circle cx="265.5" cy="157.6" r="2.75"/><circle cx="281.8" cy="157.6" r="2.75"/><circle cx="292.5" cy="158.3" r="2.75"/><circle cx="259.8" cy="149.1" r="2.75"/><circle cx="275.0" cy="157.0" r="2.75"/><circle cx="270.0" cy="159.0" r="2.75"/><circle cx="288.0" cy="159.0" r="2.75"/><circle cx="294.9" cy="93.7" r="2.75"/><circle cx="280.0" cy="102.9" r="2.75"/><circle cx="291.8" cy="110.7" r="2.75"/><circle cx="263.4" cy="114.0" r="2.75"/><circle cx="261.5" cy="122.1" r="2.75"/><circle cx="266.2" cy="123.5" r="2.75"/><circle cx="273.3" cy="124.9" r="2.75"/><circle cx="264.1" cy="129.9" r="2.75"/><circle cx="261.0" cy="133.7" r="2.75"/><circle cx="260.5" cy="138.8" r="2.75"/><circle cx="295.3" cy="140.3" r="2.75"/><circle cx="284.0" cy="133.4" r="2.75"/><circle cx="259.5" cy="149.1" r="2.75"/><circle cx="257.6" cy="216.5" r="2.75"/><circle cx="264.4" cy="223.2" r="2.75"/><circle cx="271.3" cy="226.8" r="2.75"/><circle cx="290.0" cy="220.5" r="2.75"/></g>
<line x1="28.7" y1="30.2" x2="28.7" y2="237.8" stroke="#1f1f1f" stroke-width="1.1"/>
<line x1="28.2" y1="237.3" x2="334.0" y2="237.3" stroke="#1f1f1f" stroke-width="1.1"/>
<line x1="26.4" y1="233.50" x2="28.7" y2="233.50" stroke="#1f1f1f" stroke-width="0.9"/>
<text x="10.70" y="236.25" font-family="Liberation Sans" font-size="7.65" textLength="14.0" lengthAdjust="spacingAndGlyphs" fill="#4d4d4d">0.00</text>
<line x1="26.4" y1="196.40" x2="28.7" y2="196.40" stroke="#1f1f1f" stroke-width="0.9"/>
<text x="10.70" y="199.15" font-family="Liberation Sans" font-size="7.65" textLength="14.0" lengthAdjust="spacingAndGlyphs" fill="#4d4d4d">0.01</text>
<line x1="26.4" y1="159.30" x2="28.7" y2="159.30" stroke="#1f1f1f" stroke-width="0.9"/>
<text x="10.70" y="162.05" font-family="Liberation Sans" font-size="7.65" textLength="14.0" lengthAdjust="spacingAndGlyphs" fill="#4d4d4d">0.02</text>
<line x1="26.4" y1="122.20" x2="28.7" y2="122.20" stroke="#1f1f1f" stroke-width="0.9"/>
<text x="10.70" y="124.95" font-family="Liberation Sans" font-size="7.65" textLength="14.0" lengthAdjust="spacingAndGlyphs" fill="#4d4d4d">0.03</text>
<line x1="26.4" y1="85.10" x2="28.7" y2="85.10" stroke="#1f1f1f" stroke-width="0.9"/>
<text x="10.70" y="87.85" font-family="Liberation Sans" font-size="7.65" textLength="14.0" lengthAdjust="spacingAndGlyphs" fill="#4d4d4d">0.04</text>
<line x1="26.4" y1="48.00" x2="28.7" y2="48.00" stroke="#1f1f1f" stroke-width="0.9"/>
<text x="10.70" y="50.75" font-family="Liberation Sans" font-size="7.65" textLength="14.0" lengthAdjust="spacingAndGlyphs" fill="#4d4d4d">0.05</text>
<line x1="85.94" y1="237.3" x2="85.94" y2="239.60000000000002" stroke="#1f1f1f" stroke-width="0.9"/>
<text x="90.34" y="246.90" font-family="Liberation Sans" font-size="7.3" text-anchor="middle" fill="#4d4d4d">None pleiotropy</text>
<line x1="181.35" y1="237.3" x2="181.35" y2="239.60000000000002" stroke="#1f1f1f" stroke-width="0.9"/>
<text x="181.35" y="246.90" font-family="Liberation Sans" font-size="7.3" text-anchor="middle" fill="#4d4d4d">Pleiotropy on all traits</text>
<line x1="276.76" y1="237.3" x2="276.76" y2="239.60000000000002" stroke="#1f1f1f" stroke-width="0.9"/>
<text x="276.76" y="246.90" font-family="Liberation Sans" font-size="7.3" text-anchor="middle" fill="#4d4d4d">Pleiotropy on UG production</text>
<text x="532.1" y="22.9" font-family="Liberation Sans" font-weight="bold" font-size="14.6" text-anchor="middle" fill="#000">Variance of UG production</text>
<text x="343.6" y="10.9" font-family="Liberation Sans" font-weight="bold" font-size="14.6" fill="#000">B</text>
<line x1="484.62" y1="32.7" x2="484.62" y2="237.3" stroke="#ff1f1f" stroke-width="1.1" stroke-dasharray="3.5 3.45"/>
<path d="M439.80,68.30 L439.90,68.90 L440.04,69.70 L440.21,70.66 L440.40,71.76 L440.60,72.95 L440.80,74.20 L441.01,75.56 L441.24,77.07 L441.48,78.68 L441.72,80.33 L441.96,81.99 L442.20,83.60 L442.43,85.18 L442.66,86.76 L442.89,88.34 L443.12,89.93 L443.36,91.52 L443.60,93.10 L443.85,94.68 L444.09,96.27 L444.34,97.86 L444.61,99.44 L444.89,101.02 L445.20,102.60 L445.56,104.25 L445.97,105.98 L446.39,107.71 L446.81,109.34 L447.19,110.80 L447.50,112.00 L447.71,112.85 L447.84,113.41 L447.93,113.79 L448.02,114.11 L448.16,114.48 L448.40,115.00 L448.73,115.68 L449.13,116.44 L449.57,117.24 L450.05,118.06 L450.57,118.89 L451.10,119.70 L451.67,120.50 L452.29,121.30 L452.94,122.10 L453.61,122.90 L454.27,123.70 L454.90,124.50 L455.52,125.29 L456.14,126.07 L456.76,126.86 L457.36,127.64 L457.94,128.42 L458.50,129.20 L459.02,129.98 L459.51,130.77 L459.98,131.55 L460.44,132.33 L460.91,133.12 L461.40,133.90 L461.91,134.68 L462.44,135.46 L462.98,136.24 L463.51,137.03 L464.06,137.81 L464.60,138.60 L465.14,139.40 L465.68,140.20 L466.23,141.00 L466.77,141.80 L467.33,142.60 L467.90,143.40 L468.48,144.19 L469.08,144.97 L469.69,145.76 L470.30,146.54 L470.90,147.32 L471.50,148.10 L472.09,148.88 L472.69,149.66 L473.29,150.44 L473.87,151.23 L474.45,152.01 L475.00,152.80 L475.54,153.60 L476.09,154.40 L476.61,155.20 L477.11,156.00 L477.58,156.80 L478.00,157.60 L478.37,158.40 L478.71,159.21 L479.01,160.02 L479.28,160.81 L479.51,161.58 L479.70,162.30 L479.85,162.98 L479.96,163.64 L480.03,164.26 L480.07,164.86 L480.09,165.44 L480.10,166.00 L480.10,166.52 L480.09,166.99 L480.05,167.43 L479.98,167.88 L479.87,168.36 L479.70,168.90 L479.47,169.50 L479.19,170.16 L478.86,170.84 L478.50,171.53 L478.11,172.23 L477.70,172.90 L477.27,173.55 L476.81,174.20 L476.33,174.85 L475.81,175.50 L475.27,176.15 L474.70,176.80 L474.10,177.46 L473.47,178.13 L472.82,178.80 L472.14,179.47 L471.43,180.14 L470.70,180.80 L469.94,181.45 L469.13,182.10 L468.31,182.75 L467.47,183.40 L466.63,184.05 L465.80,184.70 L464.98,185.36 L464.15,186.03 L463.33,186.70 L462.50,187.37 L461.69,188.04 L460.90,188.70 L460.12,189.35 L459.35,190.00 L458.59,190.65 L457.84,191.30 L457.11,191.95 L456.40,192.60 L455.70,193.26 L455.02,193.93 L454.36,194.60 L453.71,195.27 L453.09,195.94 L452.50,196.60 L451.94,197.25 L451.41,197.90 L450.91,198.55 L450.42,199.20 L449.95,199.85 L449.50,200.50 L449.06,201.16 L448.64,201.84 L448.24,202.51 L447.85,203.19 L447.47,203.85 L447.10,204.50 L446.72,205.18 L446.33,205.89 L445.95,206.60 L445.60,207.25 L445.31,207.80 L445.10,208.20 L429.10,208.20 L428.89,207.80 L428.60,207.25 L428.25,206.60 L427.87,205.89 L427.48,205.18 L427.10,204.50 L426.73,203.85 L426.35,203.19 L425.96,202.51 L425.56,201.84 L425.14,201.16 L424.70,200.50 L424.25,199.85 L423.78,199.20 L423.29,198.55 L422.79,197.90 L422.26,197.25 L421.70,196.60 L421.11,195.94 L420.49,195.27 L419.84,194.60 L419.18,193.93 L418.50,193.26 L417.80,192.60 L417.09,191.95 L416.36,191.30 L415.61,190.65 L414.85,190.00 L414.08,189.35 L413.30,188.70 L412.51,188.04 L411.70,187.37 L410.88,186.70 L410.05,186.03 L409.22,185.36 L408.40,184.70 L407.57,184.05 L406.73,183.40 L405.89,182.75 L405.07,182.10 L404.26,181.45 L403.50,180.80 L402.77,180.14 L402.06,179.47 L401.38,178.80 L400.73,178.13 L400.10,177.46 L399.50,176.80 L398.93,176.15 L398.39,175.50 L397.88,174.85 L397.39,174.20 L396.93,173.55 L396.50,172.90 L396.09,172.23 L395.70,171.53 L395.34,170.84 L395.01,170.16 L394.73,169.50 L394.50,168.90 L394.33,168.36 L394.22,167.88 L394.15,167.43 L394.11,166.99 L394.10,166.52 L394.10,166.00 L394.11,165.44 L394.13,164.86 L394.17,164.26 L394.24,163.64 L394.35,162.98 L394.50,162.30 L394.69,161.58 L394.92,160.81 L395.19,160.02 L395.49,159.21 L395.83,158.40 L396.20,157.60 L396.62,156.80 L397.09,156.00 L397.59,155.20 L398.11,154.40 L398.66,153.60 L399.20,152.80 L399.75,152.01 L400.33,151.23 L400.91,150.44 L401.51,149.66 L402.11,148.88 L402.70,148.10 L403.30,147.32 L403.90,146.54 L404.51,145.76 L405.12,144.97 L405.72,144.19 L406.30,143.40 L406.87,142.60 L407.43,141.80 L407.97,141.00 L408.52,140.20 L409.06,139.40 L409.60,138.60 L410.14,137.81 L410.69,137.03 L411.22,136.24 L411.76,135.46 L412.29,134.68 L412.80,133.90 L413.29,133.12 L413.76,132.33 L414.23,131.55 L414.69,130.77 L415.18,129.98 L415.70,129.20 L416.26,128.42 L416.84,127.64 L417.44,126.86 L418.06,126.07 L418.68,125.29 L419.30,124.50 L419.93,123.70 L420.59,122.90 L421.26,122.10 L421.91,121.30 L422.53,120.50 L423.10,119.70 L423.63,118.89 L424.15,118.06 L424.63,117.24 L425.07,116.44 L425.47,115.68 L425.80,115.00 L426.04,114.48 L426.18,114.11 L426.28,113.79 L426.36,113.41 L426.49,112.85 L426.70,112.00 L427.01,110.80 L427.39,109.34 L427.81,107.71 L428.23,105.98 L428.64,104.25 L429.00,102.60 L429.31,101.02 L429.59,99.44 L429.86,97.86 L430.11,96.27 L430.35,94.68 L430.60,93.10 L430.84,91.52 L431.08,89.93 L431.31,88.34 L431.54,86.76 L431.77,85.18 L432.00,83.60 L432.24,81.99 L432.48,80.33 L432.72,78.68 L432.96,77.07 L433.19,75.56 L433.40,74.20 L433.60,72.95 L433.80,71.76 L433.99,70.66 L434.16,69.70 L434.30,68.90 L434.40,68.30 Z" fill="#F99F98" stroke="#1e1e1e" stroke-width="0.95" stroke-linejoin="round"/>
<line x1="437.10" y1="92.2" x2="437.10" y2="208" stroke="#333" stroke-width="0.7"/>
<rect x="429.95" y="140.4" width="14.30" height="36.70" fill="#F8766D" stroke="#1a1a1a" stroke-width="0.85"/>
<line x1="429.95" y1="160.7" x2="444.25" y2="160.7" stroke="#1a1a1a" stroke-width="1.0"/>
<path d="M533.20,39.30 L533.18,39.69 L533.16,40.22 L533.13,40.85 L533.11,41.55 L533.08,42.28 L533.05,43.00 L533.03,43.64 L533.00,44.22 L532.98,44.83 L532.95,45.57 L532.93,46.52 L532.90,47.80 L532.86,49.47 L532.82,51.47 L532.77,53.69 L532.73,56.03 L532.70,58.37 L532.70,60.60 L532.71,62.78 L532.74,64.99 L532.78,67.21 L532.84,69.40 L532.91,71.51 L533.00,73.50 L533.12,75.42 L533.26,77.32 L533.42,79.14 L533.59,80.84 L533.75,82.37 L533.90,83.70 L534.03,84.75 L534.15,85.54 L534.27,86.18 L534.38,86.73 L534.49,87.31 L534.60,88.00 L534.71,88.79 L534.81,89.61 L534.91,90.46 L535.00,91.31 L535.10,92.16 L535.20,93.00 L535.32,93.82 L535.45,94.63 L535.58,95.44 L535.70,96.26 L535.78,97.11 L535.80,98.00 L535.75,98.94 L535.64,99.93 L535.49,100.94 L535.34,101.96 L535.20,102.99 L535.10,104.00 L535.04,105.02 L535.01,106.05 L534.99,107.08 L534.98,108.10 L534.99,109.08 L535.00,110.00 L535.02,110.86 L535.06,111.66 L535.11,112.43 L535.17,113.17 L535.23,113.93 L535.30,114.70 L535.36,115.50 L535.41,116.30 L535.47,117.10 L535.54,117.90 L535.65,118.70 L535.80,119.50 L535.99,120.29 L536.20,121.07 L536.45,121.86 L536.73,122.64 L537.05,123.42 L537.40,124.20 L537.80,124.98 L538.24,125.77 L538.72,126.55 L539.23,127.33 L539.76,128.12 L540.30,128.90 L540.86,129.68 L541.45,130.46 L542.06,131.24 L542.68,132.03 L543.30,132.81 L543.90,133.60 L544.50,134.40 L545.11,135.20 L545.72,136.00 L546.32,136.80 L546.88,137.60 L547.40,138.40 L547.87,139.19 L548.31,139.97 L548.71,140.76 L549.09,141.54 L549.45,142.32 L549.80,143.10 L550.12,143.88 L550.41,144.66 L550.69,145.44 L550.95,146.23 L551.22,147.01 L551.50,147.80 L551.77,148.60 L552.00,149.40 L552.24,150.20 L552.52,151.00 L552.86,151.80 L553.30,152.60 L553.86,153.39 L554.50,154.17 L555.22,154.96 L555.97,155.74 L556.74,156.52 L557.50,157.30 L558.26,158.08 L559.05,158.86 L559.86,159.64 L560.66,160.43 L561.45,161.21 L562.20,162.00 L562.93,162.81 L563.65,163.65 L564.36,164.49 L565.04,165.31 L565.69,166.09 L566.30,166.80 L566.86,167.41 L567.39,167.94 L567.87,168.43 L568.35,168.91 L568.82,169.46 L569.30,170.10 L569.81,170.86 L570.33,171.70 L570.84,172.59 L571.34,173.50 L571.80,174.42 L572.20,175.30 L572.54,176.16 L572.84,177.01 L573.11,177.86 L573.33,178.70 L573.53,179.55 L573.70,180.40 L573.84,181.25 L573.95,182.10 L574.03,182.95 L574.08,183.80 L574.10,184.65 L574.10,185.50 L574.08,186.35 L574.05,187.20 L573.99,188.04 L573.89,188.89 L573.73,189.74 L573.50,190.60 L573.21,191.46 L572.87,192.33 L572.48,193.20 L572.03,194.07 L571.50,194.94 L570.90,195.80 L570.20,196.67 L569.39,197.54 L568.52,198.42 L567.61,199.28 L566.69,200.11 L565.80,200.90 L564.91,201.64 L563.99,202.34 L563.06,203.02 L562.16,203.68 L561.29,204.33 L560.50,205.00 L559.77,205.67 L559.09,206.34 L558.46,207.01 L557.86,207.67 L557.31,208.33 L556.80,209.00 L556.36,209.66 L555.99,210.30 L555.67,210.94 L555.35,211.60 L555.01,212.28 L554.60,213.00 L554.14,213.77 L553.64,214.57 L553.12,215.40 L552.58,216.24 L552.00,217.08 L551.40,217.90 L550.76,218.70 L550.07,219.49 L549.35,220.28 L548.62,221.07 L547.90,221.88 L547.20,222.70 L546.48,223.60 L545.70,224.60 L544.94,225.60 L544.23,226.54 L543.63,227.33 L543.20,227.90 L521.40,227.90 L520.97,227.33 L520.37,226.54 L519.66,225.60 L518.90,224.60 L518.12,223.60 L517.40,222.70 L516.70,221.88 L515.98,221.07 L515.25,220.28 L514.53,219.49 L513.84,218.70 L513.20,217.90 L512.60,217.08 L512.02,216.24 L511.48,215.40 L510.96,214.57 L510.46,213.77 L510.00,213.00 L509.59,212.28 L509.25,211.60 L508.93,210.94 L508.61,210.30 L508.24,209.66 L507.80,209.00 L507.29,208.33 L506.74,207.67 L506.14,207.01 L505.51,206.34 L504.83,205.67 L504.10,205.00 L503.31,204.33 L502.44,203.68 L501.54,203.02 L500.61,202.34 L499.69,201.64 L498.80,200.90 L497.91,200.11 L496.99,199.28 L496.08,198.42 L495.21,197.54 L494.40,196.67 L493.70,195.80 L493.10,194.94 L492.57,194.07 L492.12,193.20 L491.73,192.33 L491.39,191.46 L491.10,190.60 L490.87,189.74 L490.71,188.89 L490.61,188.04 L490.55,187.20 L490.52,186.35 L490.50,185.50 L490.50,184.65 L490.52,183.80 L490.57,182.95 L490.65,182.10 L490.76,181.25 L490.90,180.40 L491.07,179.55 L491.27,178.70 L491.49,177.86 L491.76,177.01 L492.06,176.16 L492.40,175.30 L492.80,174.42 L493.26,173.50 L493.76,172.59 L494.27,171.70 L494.79,170.86 L495.30,170.10 L495.78,169.46 L496.25,168.91 L496.73,168.43 L497.21,167.94 L497.74,167.41 L498.30,166.80 L498.91,166.09 L499.56,165.31 L500.24,164.49 L500.95,163.65 L501.67,162.81 L502.40,162.00 L503.15,161.21 L503.94,160.43 L504.74,159.64 L505.55,158.86 L506.34,158.08 L507.10,157.30 L507.86,156.52 L508.63,155.74 L509.38,154.96 L510.10,154.17 L510.74,153.39 L511.30,152.60 L511.74,151.80 L512.08,151.00 L512.36,150.20 L512.60,149.40 L512.83,148.60 L513.10,147.80 L513.38,147.01 L513.65,146.23 L513.91,145.44 L514.19,144.66 L514.48,143.88 L514.80,143.10 L515.15,142.32 L515.51,141.54 L515.89,140.76 L516.29,139.97 L516.73,139.19 L517.20,138.40 L517.72,137.60 L518.28,136.80 L518.88,136.00 L519.49,135.20 L520.10,134.40 L520.70,133.60 L521.30,132.81 L521.92,132.03 L522.54,131.24 L523.15,130.46 L523.74,129.68 L524.30,128.90 L524.84,128.12 L525.37,127.33 L525.88,126.55 L526.36,125.77 L526.80,124.98 L527.20,124.20 L527.55,123.42 L527.87,122.64 L528.15,121.86 L528.40,121.07 L528.61,120.29 L528.80,119.50 L528.95,118.70 L529.06,117.90 L529.13,117.10 L529.19,116.30 L529.24,115.50 L529.30,114.70 L529.37,113.93 L529.43,113.17 L529.49,112.43 L529.54,111.66 L529.58,110.86 L529.60,110.00 L529.61,109.08 L529.62,108.10 L529.61,107.08 L529.59,106.05 L529.56,105.02 L529.50,104.00 L529.40,102.99 L529.26,101.96 L529.11,100.94 L528.96,99.93 L528.85,98.94 L528.80,98.00 L528.82,97.11 L528.90,96.26 L529.02,95.44 L529.15,94.63 L529.28,93.82 L529.40,93.00 L529.50,92.16 L529.60,91.31 L529.69,90.46 L529.79,89.61 L529.89,88.79 L530.00,88.00 L530.11,87.31 L530.22,86.73 L530.33,86.18 L530.45,85.54 L530.57,84.75 L530.70,83.70 L530.85,82.37 L531.01,80.84 L531.17,79.14 L531.34,77.32 L531.48,75.42 L531.60,73.50 L531.69,71.51 L531.76,69.40 L531.82,67.21 L531.86,64.99 L531.89,62.78 L531.90,60.60 L531.90,58.37 L531.87,56.03 L531.83,53.69 L531.78,51.47 L531.74,49.47 L531.70,47.80 L531.67,46.52 L531.65,45.57 L531.62,44.83 L531.60,44.22 L531.57,43.64 L531.55,43.00 L531.52,42.28 L531.49,41.55 L531.47,40.85 L531.44,40.22 L531.42,39.69 L531.40,39.30 Z" fill="#4DCB75" stroke="#1e1e1e" stroke-width="0.95" stroke-linejoin="round"/>
<line x1="532.30" y1="111" x2="532.30" y2="227.9" stroke="#333" stroke-width="0.7"/>
<rect x="525.15" y="162.7" width="14.30" height="34.90" fill="#00C23D" stroke="#1a1a1a" stroke-width="0.85"/>
<line x1="525.15" y1="180.8" x2="539.45" y2="180.8" stroke="#1a1a1a" stroke-width="1.0"/>
<path d="M629.60,64.30 L629.61,64.92 L629.63,65.79 L629.65,66.81 L629.67,67.91 L629.69,69.00 L629.70,70.00 L629.71,70.87 L629.73,71.67 L629.74,72.46 L629.74,73.30 L629.73,74.26 L629.70,75.40 L629.65,76.74 L629.57,78.24 L629.49,79.86 L629.39,81.55 L629.29,83.28 L629.20,85.00 L629.09,86.76 L628.96,88.61 L628.83,90.49 L628.71,92.36 L628.63,94.18 L628.60,95.90 L628.63,97.54 L628.70,99.14 L628.80,100.68 L628.93,102.16 L629.06,103.57 L629.20,104.90 L629.34,106.12 L629.49,107.23 L629.66,108.26 L629.83,109.26 L630.01,110.26 L630.20,111.30 L630.39,112.37 L630.59,113.43 L630.79,114.50 L631.01,115.57 L631.25,116.63 L631.50,117.70 L631.79,118.79 L632.10,119.91 L632.43,121.03 L632.77,122.12 L633.09,123.15 L633.40,124.10 L633.68,124.93 L633.96,125.67 L634.22,126.36 L634.48,127.01 L634.74,127.68 L635.00,128.40 L635.26,129.16 L635.51,129.94 L635.76,130.72 L636.02,131.52 L636.30,132.31 L636.60,133.10 L636.93,133.88 L637.27,134.66 L637.63,135.44 L638.00,136.23 L638.39,137.01 L638.80,137.80 L639.22,138.60 L639.66,139.40 L640.12,140.20 L640.59,141.00 L641.09,141.80 L641.60,142.60 L642.14,143.39 L642.70,144.17 L643.28,144.96 L643.88,145.74 L644.49,146.52 L645.10,147.30 L645.72,148.08 L646.36,148.86 L647.01,149.64 L647.66,150.43 L648.33,151.21 L649.00,152.00 L649.68,152.82 L650.38,153.66 L651.09,154.51 L651.80,155.34 L652.50,156.11 L653.20,156.80 L653.90,157.37 L654.61,157.84 L655.33,158.25 L656.02,158.66 L656.68,159.13 L657.30,159.70 L657.88,160.39 L658.43,161.16 L658.95,161.99 L659.44,162.84 L659.89,163.68 L660.30,164.50 L660.66,165.29 L660.96,166.07 L661.22,166.86 L661.47,167.64 L661.73,168.42 L662.00,169.20 L662.29,169.98 L662.59,170.77 L662.89,171.55 L663.20,172.33 L663.50,173.12 L663.80,173.90 L664.10,174.68 L664.41,175.46 L664.72,176.24 L665.02,177.03 L665.32,177.81 L665.60,178.60 L665.87,179.40 L666.14,180.20 L666.41,181.00 L666.66,181.80 L666.89,182.60 L667.10,183.40 L667.30,184.19 L667.48,184.97 L667.64,185.76 L667.79,186.54 L667.91,187.32 L668.00,188.10 L668.07,188.88 L668.11,189.66 L668.13,190.44 L668.12,191.23 L668.08,192.01 L668.00,192.80 L667.89,193.60 L667.76,194.40 L667.59,195.20 L667.38,196.00 L667.12,196.80 L666.80,197.60 L666.42,198.39 L665.98,199.17 L665.49,199.96 L664.96,200.74 L664.39,201.52 L663.80,202.30 L663.19,203.08 L662.54,203.86 L661.87,204.63 L661.16,205.41 L660.40,206.20 L659.60,207.00 L658.74,207.82 L657.83,208.65 L656.88,209.49 L655.90,210.33 L654.90,211.17 L653.90,212.00 L652.86,212.83 L651.77,213.67 L650.66,214.51 L649.57,215.34 L648.54,216.14 L647.60,216.90 L646.79,217.61 L646.09,218.28 L645.44,218.92 L644.80,219.56 L644.14,220.21 L643.40,220.90 L642.52,221.69 L641.52,222.56 L640.49,223.45 L639.51,224.29 L638.69,224.99 L638.10,225.50 L617.10,225.50 L616.51,224.99 L615.69,224.29 L614.71,223.45 L613.68,222.56 L612.68,221.69 L611.80,220.90 L611.06,220.21 L610.40,219.56 L609.76,218.92 L609.11,218.28 L608.41,217.61 L607.60,216.90 L606.66,216.14 L605.63,215.34 L604.54,214.51 L603.43,213.67 L602.34,212.83 L601.30,212.00 L600.30,211.17 L599.30,210.33 L598.32,209.49 L597.37,208.65 L596.46,207.82 L595.60,207.00 L594.80,206.20 L594.04,205.41 L593.33,204.63 L592.66,203.86 L592.01,203.08 L591.40,202.30 L590.81,201.52 L590.24,200.74 L589.71,199.96 L589.22,199.17 L588.78,198.39 L588.40,197.60 L588.08,196.80 L587.82,196.00 L587.61,195.20 L587.44,194.40 L587.31,193.60 L587.20,192.80 L587.12,192.01 L587.08,191.23 L587.07,190.44 L587.09,189.66 L587.13,188.88 L587.20,188.10 L587.29,187.32 L587.41,186.54 L587.56,185.76 L587.72,184.97 L587.90,184.19 L588.10,183.40 L588.31,182.60 L588.54,181.80 L588.79,181.00 L589.06,180.20 L589.33,179.40 L589.60,178.60 L589.88,177.81 L590.18,177.03 L590.48,176.24 L590.79,175.46 L591.10,174.68 L591.40,173.90 L591.70,173.12 L592.00,172.33 L592.31,171.55 L592.61,170.77 L592.91,169.98 L593.20,169.20 L593.47,168.42 L593.73,167.64 L593.98,166.86 L594.24,166.07 L594.54,165.29 L594.90,164.50 L595.31,163.68 L595.76,162.84 L596.25,161.99 L596.77,161.16 L597.32,160.39 L597.90,159.70 L598.52,159.13 L599.18,158.66 L599.87,158.25 L600.59,157.84 L601.30,157.37 L602.00,156.80 L602.70,156.11 L603.40,155.34 L604.11,154.51 L604.82,153.66 L605.52,152.82 L606.20,152.00 L606.87,151.21 L607.54,150.43 L608.19,149.64 L608.84,148.86 L609.48,148.08 L610.10,147.30 L610.71,146.52 L611.32,145.74 L611.92,144.96 L612.50,144.17 L613.06,143.39 L613.60,142.60 L614.11,141.80 L614.61,141.00 L615.08,140.20 L615.54,139.40 L615.98,138.60 L616.40,137.80 L616.81,137.01 L617.20,136.23 L617.57,135.44 L617.93,134.66 L618.27,133.88 L618.60,133.10 L618.90,132.31 L619.18,131.52 L619.44,130.72 L619.69,129.94 L619.94,129.16 L620.20,128.40 L620.46,127.68 L620.72,127.01 L620.98,126.36 L621.24,125.67 L621.52,124.93 L621.80,124.10 L622.11,123.15 L622.43,122.12 L622.77,121.03 L623.10,119.91 L623.41,118.79 L623.70,117.70 L623.95,116.63 L624.19,115.57 L624.41,114.50 L624.61,113.43 L624.81,112.37 L625.00,111.30 L625.19,110.26 L625.37,109.26 L625.54,108.26 L625.71,107.23 L625.86,106.12 L626.00,104.90 L626.14,103.57 L626.27,102.16 L626.40,100.68 L626.50,99.14 L626.57,97.54 L626.60,95.90 L626.57,94.18 L626.49,92.36 L626.37,90.49 L626.24,88.61 L626.11,86.76 L626.00,85.00 L625.91,83.28 L625.81,81.55 L625.71,79.86 L625.63,78.24 L625.55,76.74 L625.50,75.40 L625.47,74.26 L625.46,73.30 L625.46,72.46 L625.47,71.67 L625.49,70.87 L625.50,70.00 L625.51,69.00 L625.53,67.91 L625.55,66.81 L625.57,65.79 L625.59,64.92 L625.60,64.30 Z" fill="#92BBFF" stroke="#1e1e1e" stroke-width="0.95" stroke-linejoin="round"/>
<line x1="627.60" y1="106" x2="627.60" y2="225.5" stroke="#333" stroke-width="0.7"/>
<rect x="620.45" y="161.6" width="14.30" height="37.30" fill="#6aa2ff" stroke="#1a1a1a" stroke-width="0.85"/>
<line x1="620.45" y1="183.1" x2="634.75" y2="183.1" stroke="#1a1a1a" stroke-width="1.0"/>
<g fill="#000" fill-opacity="0.6"><circle cx="454.9" cy="68.1" r="2.75"/><circle cx="450.0" cy="74.8" r="2.75"/><circle cx="432.7" cy="82.5" r="2.75"/><circle cx="443.8" cy="91.8" r="2.75"/><circle cx="453.8" cy="91.8" r="2.75"/><circle cx="420.4" cy="99.9" r="2.75"/><circle cx="429.3" cy="103.3" r="2.75"/><circle cx="435.7" cy="103.3" r="2.75"/><circle cx="450.4" cy="107.7" r="2.75"/><circle cx="422.1" cy="114.0" r="2.75"/><circle cx="425.3" cy="119.9" r="2.75"/><circle cx="433.4" cy="116.2" r="2.75"/><circle cx="455.3" cy="122.1" r="2.75"/><circle cx="433.1" cy="130.2" r="2.75"/><circle cx="442.3" cy="128.0" r="2.75"/><circle cx="439.3" cy="128.7" r="2.75"/><circle cx="447.5" cy="132.4" r="2.75"/><circle cx="454.1" cy="131.7" r="2.75"/><circle cx="433.2" cy="137.1" r="2.75"/><circle cx="430.5" cy="140.2" r="2.75"/><circle cx="420.3" cy="143.2" r="2.75"/><circle cx="427.5" cy="143.6" r="2.75"/><circle cx="448.7" cy="138.7" r="2.75"/><circle cx="455.2" cy="139.0" r="2.75"/><circle cx="446.4" cy="144.0" r="2.75"/><circle cx="428.2" cy="148.5" r="2.75"/><circle cx="441.5" cy="148.9" r="2.75"/><circle cx="454.0" cy="147.4" r="2.75"/><circle cx="450.6" cy="150.4" r="2.75"/><circle cx="449.5" cy="153.1" r="2.75"/><circle cx="442.6" cy="154.6" r="2.75"/><circle cx="432.8" cy="155.4" r="2.75"/><circle cx="418.4" cy="156.9" r="2.75"/><circle cx="429.0" cy="153.1" r="2.75"/><circle cx="452.5" cy="158.4" r="2.75"/><circle cx="436.6" cy="158.4" r="2.75"/><circle cx="420.3" cy="160.7" r="2.75"/><circle cx="422.1" cy="164.9" r="2.75"/><circle cx="418.0" cy="167.1" r="2.75"/><circle cx="418.4" cy="173.6" r="2.75"/><circle cx="419.9" cy="177.8" r="2.75"/><circle cx="427.5" cy="160.3" r="2.75"/><circle cx="430.9" cy="164.9" r="2.75"/><circle cx="438.1" cy="165.6" r="2.75"/><circle cx="428.2" cy="169.4" r="2.75"/><circle cx="425.9" cy="170.2" r="2.75"/><circle cx="442.6" cy="170.2" r="2.75"/><circle cx="431.6" cy="173.2" r="2.75"/><circle cx="434.3" cy="174.0" r="2.75"/><circle cx="426.3" cy="175.5" r="2.75"/><circle cx="448.0" cy="160.3" r="2.75"/><circle cx="454.8" cy="164.1" r="2.75"/><circle cx="449.5" cy="175.5" r="2.75"/><circle cx="451.8" cy="177.0" r="2.75"/><circle cx="440.4" cy="180.1" r="2.75"/><circle cx="446.4" cy="180.1" r="2.75"/><circle cx="454.0" cy="183.1" r="2.75"/><circle cx="452.5" cy="184.6" r="2.75"/><circle cx="428.2" cy="180.8" r="2.75"/><circle cx="432.0" cy="183.1" r="2.75"/><circle cx="433.5" cy="185.4" r="2.75"/><circle cx="426.3" cy="186.9" r="2.75"/><circle cx="435.8" cy="188.4" r="2.75"/><circle cx="429.7" cy="164.1" r="2.75"/><circle cx="429.0" cy="173.2" r="2.75"/><circle cx="423.7" cy="192.1" r="2.75"/><circle cx="433.5" cy="189.9" r="2.75"/><circle cx="437.3" cy="191.4" r="2.75"/><circle cx="454.5" cy="195.3" r="2.75"/><circle cx="448.0" cy="199.0" r="2.75"/><circle cx="452.8" cy="204.6" r="2.75"/><circle cx="447.8" cy="206.2" r="2.75"/><circle cx="432.7" cy="208.8" r="2.75"/><circle cx="442.8" cy="208.8" r="2.75"/></g>
<g fill="#000" fill-opacity="0.6"><circle cx="550.5" cy="173.8" r="2.75"/><circle cx="526.3" cy="211.2" r="2.75"/><circle cx="514.0" cy="185.7" r="2.75"/><circle cx="518.3" cy="208.8" r="2.75"/><circle cx="545.5" cy="184.7" r="2.75"/><circle cx="544.8" cy="194.9" r="2.75"/><circle cx="547.4" cy="207.1" r="2.75"/><circle cx="515.4" cy="190.7" r="2.75"/><circle cx="529.0" cy="223.8" r="2.75"/><circle cx="514.9" cy="192.7" r="2.75"/><circle cx="537.6" cy="215.7" r="2.75"/><circle cx="545.1" cy="185.1" r="2.75"/><circle cx="523.4" cy="178.5" r="2.75"/><circle cx="538.7" cy="203.2" r="2.75"/><circle cx="538.5" cy="171.8" r="2.75"/><circle cx="548.1" cy="214.0" r="2.75"/><circle cx="550.4" cy="175.5" r="2.75"/><circle cx="550.3" cy="169.8" r="2.75"/><circle cx="547.4" cy="174.6" r="2.75"/><circle cx="540.6" cy="182.1" r="2.75"/><circle cx="544.5" cy="205.8" r="2.75"/><circle cx="540.7" cy="183.4" r="2.75"/><circle cx="534.4" cy="174.8" r="2.75"/><circle cx="534.3" cy="211.9" r="2.75"/><circle cx="519.9" cy="167.4" r="2.75"/><circle cx="522.9" cy="182.8" r="2.75"/><circle cx="532.3" cy="181.9" r="2.75"/><circle cx="519.9" cy="224.3" r="2.75"/><circle cx="538.8" cy="175.1" r="2.75"/><circle cx="520.7" cy="198.4" r="2.75"/><circle cx="530.1" cy="203.3" r="2.75"/><circle cx="531.6" cy="166.8" r="2.75"/><circle cx="520.5" cy="171.0" r="2.75"/><circle cx="538.3" cy="207.8" r="2.75"/><circle cx="538.5" cy="182.0" r="2.75"/><circle cx="514.7" cy="216.4" r="2.75"/><circle cx="544.0" cy="191.5" r="2.75"/><circle cx="532.1" cy="169.4" r="2.75"/><circle cx="544.5" cy="167.0" r="2.75"/><circle cx="540.4" cy="212.1" r="2.75"/><circle cx="515.1" cy="184.0" r="2.75"/><circle cx="546.1" cy="211.3" r="2.75"/><circle cx="527.1" cy="200.4" r="2.75"/><circle cx="518.5" cy="175.0" r="2.75"/><circle cx="526.8" cy="204.7" r="2.75"/><circle cx="549.3" cy="187.1" r="2.75"/><circle cx="546.0" cy="171.0" r="2.75"/><circle cx="549.6" cy="187.4" r="2.75"/><circle cx="529.0" cy="179.6" r="2.75"/><circle cx="543.3" cy="174.4" r="2.75"/><circle cx="529.7" cy="167.0" r="2.75"/><circle cx="523.8" cy="205.2" r="2.75"/><circle cx="541.5" cy="205.6" r="2.75"/><circle cx="548.5" cy="189.5" r="2.75"/><circle cx="521.3" cy="224.0" r="2.75"/><circle cx="549.9" cy="177.7" r="2.75"/><circle cx="534.0" cy="180.6" r="2.75"/><circle cx="527.4" cy="191.4" r="2.75"/><circle cx="521.0" cy="191.7" r="2.75"/><circle cx="521.8" cy="180.1" r="2.75"/><circle cx="547.0" cy="191.7" r="2.75"/><circle cx="526.9" cy="225.4" r="2.75"/><circle cx="542.5" cy="177.7" r="2.75"/><circle cx="527.2" cy="192.9" r="2.75"/><circle cx="523.5" cy="185.5" r="2.75"/><circle cx="525.9" cy="177.8" r="2.75"/><circle cx="543.9" cy="168.6" r="2.75"/><circle cx="524.0" cy="188.9" r="2.75"/><circle cx="520.9" cy="192.2" r="2.75"/><circle cx="549.0" cy="197.9" r="2.75"/><circle cx="516.5" cy="200.4" r="2.75"/><circle cx="543.4" cy="188.1" r="2.75"/><circle cx="518.6" cy="185.3" r="2.75"/><circle cx="520.1" cy="177.3" r="2.75"/><circle cx="520.3" cy="193.8" r="2.75"/><circle cx="513.4" cy="183.1" r="2.75"/><circle cx="521.7" cy="188.5" r="2.75"/><circle cx="532.9" cy="192.4" r="2.75"/><circle cx="525.8" cy="179.1" r="2.75"/><circle cx="540.5" cy="193.6" r="2.75"/><circle cx="532.3" cy="175.0" r="2.75"/><circle cx="526.2" cy="170.2" r="2.75"/><circle cx="521.0" cy="166.6" r="2.75"/><circle cx="534.3" cy="172.5" r="2.75"/><circle cx="546.6" cy="189.8" r="2.75"/><circle cx="547.2" cy="188.3" r="2.75"/><circle cx="531.8" cy="182.3" r="2.75"/><circle cx="543.2" cy="188.0" r="2.75"/><circle cx="524.1" cy="219.2" r="2.75"/><circle cx="522.7" cy="182.7" r="2.75"/><circle cx="516.0" cy="197.9" r="2.75"/><circle cx="524.7" cy="182.1" r="2.75"/><circle cx="548.6" cy="186.0" r="2.75"/><circle cx="547.7" cy="212.6" r="2.75"/><circle cx="531.1" cy="195.4" r="2.75"/><circle cx="549.8" cy="171.1" r="2.75"/><circle cx="522.0" cy="193.0" r="2.75"/><circle cx="535.8" cy="181.1" r="2.75"/><circle cx="516.1" cy="170.5" r="2.75"/><circle cx="537.3" cy="187.5" r="2.75"/><circle cx="541.3" cy="173.6" r="2.75"/><circle cx="530.7" cy="216.6" r="2.75"/><circle cx="530.9" cy="199.3" r="2.75"/><circle cx="514.8" cy="195.4" r="2.75"/><circle cx="546.2" cy="175.1" r="2.75"/><circle cx="522.2" cy="178.6" r="2.75"/><circle cx="517.8" cy="173.1" r="2.75"/><circle cx="521.9" cy="192.0" r="2.75"/><circle cx="531.5" cy="201.0" r="2.75"/><circle cx="547.6" cy="215.9" r="2.75"/><circle cx="514.0" cy="170.8" r="2.75"/><circle cx="534.3" cy="218.2" r="2.75"/><circle cx="551.2" cy="168.7" r="2.75"/><circle cx="519.0" cy="184.4" r="2.75"/><circle cx="523.6" cy="168.2" r="2.75"/><circle cx="518.4" cy="209.6" r="2.75"/><circle cx="522.4" cy="185.3" r="2.75"/><circle cx="527.2" cy="173.7" r="2.75"/><circle cx="514.4" cy="169.8" r="2.75"/><circle cx="514.8" cy="197.7" r="2.75"/><circle cx="540.4" cy="167.3" r="2.75"/><circle cx="516.5" cy="177.0" r="2.75"/><circle cx="520.5" cy="194.4" r="2.75"/><circle cx="523.5" cy="194.3" r="2.75"/><circle cx="523.7" cy="213.7" r="2.75"/><circle cx="525.9" cy="183.7" r="2.75"/><circle cx="545.2" cy="177.7" r="2.75"/><circle cx="534.4" cy="200.8" r="2.75"/><circle cx="526.4" cy="178.9" r="2.75"/><circle cx="548.3" cy="180.0" r="2.75"/><circle cx="527.2" cy="199.2" r="2.75"/><circle cx="546.1" cy="184.1" r="2.75"/><circle cx="547.1" cy="195.6" r="2.75"/><circle cx="544.5" cy="203.0" r="2.75"/><circle cx="523.1" cy="193.2" r="2.75"/><circle cx="524.3" cy="177.9" r="2.75"/><circle cx="529.8" cy="171.9" r="2.75"/><circle cx="533.9" cy="223.8" r="2.75"/><circle cx="539.7" cy="192.8" r="2.75"/><circle cx="545.6" cy="184.6" r="2.75"/><circle cx="515.4" cy="225.5" r="2.75"/><circle cx="517.8" cy="227.5" r="2.75"/><circle cx="532.7" cy="228.3" r="2.75"/><circle cx="550.8" cy="220.3" r="2.75"/><circle cx="534.1" cy="120.0" r="2.75"/><circle cx="530.2" cy="129.8" r="2.75"/><circle cx="534.1" cy="130.8" r="2.75"/><circle cx="534.6" cy="135.3" r="2.75"/><circle cx="539.6" cy="134.8" r="2.75"/><circle cx="520.3" cy="138.7" r="2.75"/><circle cx="530.2" cy="140.2" r="2.75"/><circle cx="536.1" cy="138.7" r="2.75"/><circle cx="537.6" cy="141.2" r="2.75"/><circle cx="546.5" cy="138.7" r="2.75"/><circle cx="547.4" cy="140.2" r="2.75"/><circle cx="545.0" cy="143.1" r="2.75"/><circle cx="519.3" cy="146.1" r="2.75"/><circle cx="525.8" cy="144.6" r="2.75"/><circle cx="530.2" cy="142.2" r="2.75"/><circle cx="537.6" cy="146.6" r="2.75"/><circle cx="514.4" cy="147.6" r="2.75"/><circle cx="524.8" cy="151.0" r="2.75"/><circle cx="530.2" cy="149.6" r="2.75"/><circle cx="548.9" cy="148.6" r="2.75"/><circle cx="551.4" cy="152.0" r="2.75"/><circle cx="547.4" cy="152.5" r="2.75"/><circle cx="537.6" cy="154.0" r="2.75"/><circle cx="514.4" cy="155.5" r="2.75"/><circle cx="525.8" cy="158.0" r="2.75"/><circle cx="528.7" cy="158.4" r="2.75"/><circle cx="541.5" cy="158.0" r="2.75"/><circle cx="546.0" cy="157.0" r="2.75"/><circle cx="513.4" cy="161.4" r="2.75"/><circle cx="516.9" cy="161.9" r="2.75"/><circle cx="514.4" cy="164.4" r="2.75"/><circle cx="523.8" cy="161.4" r="2.75"/><circle cx="547.4" cy="165.3" r="2.75"/><circle cx="543.5" cy="164.4" r="2.75"/><circle cx="532.0" cy="162.0" r="2.75"/><circle cx="520.0" cy="165.0" r="2.75"/><circle cx="514.1" cy="39.3" r="2.75"/><circle cx="515.3" cy="73.1" r="2.75"/><circle cx="513.7" cy="93.2" r="2.75"/><circle cx="518.8" cy="93.2" r="2.75"/><circle cx="519.5" cy="101.5" r="2.75"/><circle cx="540.6" cy="100.5" r="2.75"/><circle cx="531.3" cy="97.4" r="2.75"/><circle cx="536.5" cy="109.2" r="2.75"/><circle cx="535.0" cy="113.9" r="2.75"/><circle cx="534.0" cy="120.6" r="2.75"/></g>
<g fill="#000" fill-opacity="0.6"><circle cx="625.8" cy="209.7" r="2.75"/><circle cx="620.5" cy="183.1" r="2.75"/><circle cx="643.1" cy="206.0" r="2.75"/><circle cx="639.7" cy="202.8" r="2.75"/><circle cx="612.0" cy="208.4" r="2.75"/><circle cx="641.6" cy="202.3" r="2.75"/><circle cx="640.7" cy="173.0" r="2.75"/><circle cx="631.9" cy="176.3" r="2.75"/><circle cx="628.8" cy="181.1" r="2.75"/><circle cx="619.4" cy="187.6" r="2.75"/><circle cx="642.0" cy="170.1" r="2.75"/><circle cx="623.9" cy="199.4" r="2.75"/><circle cx="646.3" cy="199.0" r="2.75"/><circle cx="642.6" cy="173.0" r="2.75"/><circle cx="630.0" cy="205.2" r="2.75"/><circle cx="610.1" cy="167.8" r="2.75"/><circle cx="622.8" cy="214.7" r="2.75"/><circle cx="611.4" cy="183.8" r="2.75"/><circle cx="630.2" cy="164.5" r="2.75"/><circle cx="619.5" cy="185.2" r="2.75"/><circle cx="635.7" cy="179.9" r="2.75"/><circle cx="624.7" cy="170.4" r="2.75"/><circle cx="636.8" cy="165.8" r="2.75"/><circle cx="645.4" cy="205.3" r="2.75"/><circle cx="633.6" cy="217.3" r="2.75"/><circle cx="637.5" cy="203.6" r="2.75"/><circle cx="640.7" cy="210.9" r="2.75"/><circle cx="630.0" cy="183.9" r="2.75"/><circle cx="640.2" cy="200.7" r="2.75"/><circle cx="642.2" cy="209.3" r="2.75"/><circle cx="645.9" cy="188.1" r="2.75"/><circle cx="641.1" cy="182.9" r="2.75"/><circle cx="639.3" cy="205.4" r="2.75"/><circle cx="628.7" cy="204.7" r="2.75"/><circle cx="620.1" cy="170.2" r="2.75"/><circle cx="637.7" cy="188.0" r="2.75"/><circle cx="644.1" cy="168.8" r="2.75"/><circle cx="644.0" cy="198.8" r="2.75"/><circle cx="616.1" cy="167.9" r="2.75"/><circle cx="642.1" cy="197.3" r="2.75"/><circle cx="619.6" cy="168.4" r="2.75"/><circle cx="633.3" cy="170.5" r="2.75"/><circle cx="625.6" cy="185.1" r="2.75"/><circle cx="609.9" cy="167.6" r="2.75"/><circle cx="638.3" cy="169.9" r="2.75"/><circle cx="642.1" cy="181.8" r="2.75"/><circle cx="640.8" cy="168.1" r="2.75"/><circle cx="638.3" cy="198.5" r="2.75"/><circle cx="628.3" cy="219.3" r="2.75"/><circle cx="619.6" cy="192.5" r="2.75"/><circle cx="646.2" cy="207.8" r="2.75"/><circle cx="638.7" cy="195.7" r="2.75"/><circle cx="645.2" cy="191.1" r="2.75"/><circle cx="616.3" cy="193.7" r="2.75"/><circle cx="639.5" cy="179.3" r="2.75"/><circle cx="621.1" cy="166.1" r="2.75"/><circle cx="619.7" cy="190.3" r="2.75"/><circle cx="638.5" cy="181.5" r="2.75"/><circle cx="635.4" cy="208.7" r="2.75"/><circle cx="626.3" cy="207.1" r="2.75"/><circle cx="628.3" cy="195.8" r="2.75"/><circle cx="640.6" cy="193.0" r="2.75"/><circle cx="609.8" cy="185.9" r="2.75"/><circle cx="635.8" cy="209.7" r="2.75"/><circle cx="627.8" cy="166.2" r="2.75"/><circle cx="631.9" cy="182.0" r="2.75"/><circle cx="617.5" cy="186.0" r="2.75"/><circle cx="613.7" cy="187.4" r="2.75"/><circle cx="640.8" cy="173.0" r="2.75"/><circle cx="619.3" cy="211.2" r="2.75"/><circle cx="610.9" cy="203.8" r="2.75"/><circle cx="618.0" cy="175.3" r="2.75"/><circle cx="632.7" cy="208.8" r="2.75"/><circle cx="615.2" cy="204.5" r="2.75"/><circle cx="620.9" cy="191.9" r="2.75"/><circle cx="615.7" cy="183.9" r="2.75"/><circle cx="611.6" cy="187.7" r="2.75"/><circle cx="646.5" cy="191.3" r="2.75"/><circle cx="644.8" cy="193.7" r="2.75"/><circle cx="623.6" cy="205.7" r="2.75"/><circle cx="627.9" cy="194.2" r="2.75"/><circle cx="636.1" cy="166.5" r="2.75"/><circle cx="639.3" cy="201.6" r="2.75"/><circle cx="617.8" cy="190.0" r="2.75"/><circle cx="630.0" cy="197.4" r="2.75"/><circle cx="610.1" cy="175.7" r="2.75"/><circle cx="622.0" cy="189.2" r="2.75"/><circle cx="626.5" cy="204.2" r="2.75"/><circle cx="616.8" cy="176.1" r="2.75"/><circle cx="632.8" cy="177.3" r="2.75"/><circle cx="630.3" cy="194.9" r="2.75"/><circle cx="613.2" cy="206.1" r="2.75"/><circle cx="629.9" cy="216.1" r="2.75"/><circle cx="620.5" cy="193.3" r="2.75"/><circle cx="634.4" cy="173.1" r="2.75"/><circle cx="646.1" cy="215.0" r="2.75"/><circle cx="637.9" cy="174.0" r="2.75"/><circle cx="642.3" cy="189.3" r="2.75"/><circle cx="609.3" cy="176.8" r="2.75"/><circle cx="624.9" cy="178.4" r="2.75"/><circle cx="642.3" cy="193.6" r="2.75"/><circle cx="643.1" cy="199.1" r="2.75"/><circle cx="626.8" cy="190.6" r="2.75"/><circle cx="636.9" cy="203.7" r="2.75"/><circle cx="635.1" cy="186.4" r="2.75"/><circle cx="616.1" cy="164.5" r="2.75"/><circle cx="610.8" cy="218.1" r="2.75"/><circle cx="628.9" cy="199.2" r="2.75"/><circle cx="636.1" cy="188.7" r="2.75"/><circle cx="612.3" cy="164.5" r="2.75"/><circle cx="618.0" cy="191.3" r="2.75"/><circle cx="641.5" cy="209.3" r="2.75"/><circle cx="625.7" cy="187.6" r="2.75"/><circle cx="631.8" cy="183.2" r="2.75"/><circle cx="624.0" cy="167.1" r="2.75"/><circle cx="627.1" cy="181.5" r="2.75"/><circle cx="632.6" cy="182.4" r="2.75"/><circle cx="611.0" cy="207.3" r="2.75"/><circle cx="618.6" cy="172.6" r="2.75"/><circle cx="630.7" cy="198.1" r="2.75"/><circle cx="609.2" cy="181.3" r="2.75"/><circle cx="637.2" cy="178.3" r="2.75"/><circle cx="621.3" cy="165.8" r="2.75"/><circle cx="611.8" cy="200.4" r="2.75"/><circle cx="633.8" cy="178.8" r="2.75"/><circle cx="622.4" cy="174.0" r="2.75"/><circle cx="628.8" cy="173.3" r="2.75"/><circle cx="623.6" cy="186.1" r="2.75"/><circle cx="636.8" cy="190.9" r="2.75"/><circle cx="621.8" cy="168.1" r="2.75"/><circle cx="626.9" cy="119.2" r="2.75"/><circle cx="623.6" cy="125.7" r="2.75"/><circle cx="623.1" cy="131.1" r="2.75"/><circle cx="617.6" cy="138.7" r="2.75"/><circle cx="626.9" cy="138.2" r="2.75"/><circle cx="628.5" cy="138.4" r="2.75"/><circle cx="636.1" cy="143.6" r="2.75"/><circle cx="642.6" cy="144.2" r="2.75"/><circle cx="610.0" cy="149.6" r="2.75"/><circle cx="617.1" cy="148.5" r="2.75"/><circle cx="622.5" cy="146.9" r="2.75"/><circle cx="626.3" cy="148.5" r="2.75"/><circle cx="619.8" cy="152.8" r="2.75"/><circle cx="639.3" cy="148.5" r="2.75"/><circle cx="639.9" cy="152.8" r="2.75"/><circle cx="609.5" cy="157.2" r="2.75"/><circle cx="616.0" cy="157.7" r="2.75"/><circle cx="626.9" cy="155.0" r="2.75"/><circle cx="632.8" cy="157.7" r="2.75"/><circle cx="640.4" cy="157.2" r="2.75"/><circle cx="610.6" cy="162.1" r="2.75"/><circle cx="644.2" cy="163.1" r="2.75"/><circle cx="620.4" cy="161.0" r="2.75"/><circle cx="635.5" cy="161.0" r="2.75"/><circle cx="630.0" cy="163.0" r="2.75"/><circle cx="622.2" cy="64.3" r="2.75"/><circle cx="609.5" cy="75.8" r="2.75"/><circle cx="623.7" cy="74.7" r="2.75"/><circle cx="640.4" cy="71.1" r="2.75"/><circle cx="643.6" cy="83.4" r="2.75"/><circle cx="641.8" cy="90.3" r="2.75"/><circle cx="613.7" cy="100.6" r="2.75"/><circle cx="623.7" cy="113.3" r="2.75"/><circle cx="609.1" cy="123.3" r="2.75"/><circle cx="615.3" cy="132.4" r="2.75"/><circle cx="638.0" cy="125.5" r="2.75"/><circle cx="641.3" cy="129.1" r="2.75"/><circle cx="638.5" cy="134.2" r="2.75"/><circle cx="610.0" cy="222.4" r="2.75"/><circle cx="618.4" cy="225.2" r="2.75"/><circle cx="646.5" cy="220.5" r="2.75"/><circle cx="633.4" cy="223.9" r="2.75"/></g>
<line x1="379.9" y1="30.2" x2="379.9" y2="237.8" stroke="#1f1f1f" stroke-width="1.1"/>
<line x1="379.4" y1="237.3" x2="685.5" y2="237.3" stroke="#1f1f1f" stroke-width="1.1"/>
<line x1="377.59999999999997" y1="230.60" x2="379.9" y2="230.60" stroke="#1f1f1f" stroke-width="0.9"/>
<text x="353.80" y="233.35" font-family="Liberation Sans" font-size="7.65" textLength="22.1" lengthAdjust="spacingAndGlyphs" fill="#4d4d4d">0.0000</text>
<line x1="377.59999999999997" y1="176.90" x2="379.9" y2="176.90" stroke="#1f1f1f" stroke-width="0.9"/>
<text x="353.80" y="179.65" font-family="Liberation Sans" font-size="7.65" textLength="22.1" lengthAdjust="spacingAndGlyphs" fill="#4d4d4d">0.0025</text>
<line x1="377.59999999999997" y1="123.20" x2="379.9" y2="123.20" stroke="#1f1f1f" stroke-width="0.9"/>
<text x="353.80" y="125.95" font-family="Liberation Sans" font-size="7.65" textLength="22.1" lengthAdjust="spacingAndGlyphs" fill="#4d4d4d">0.0050</text>
<line x1="377.59999999999997" y1="69.50" x2="379.9" y2="69.50" stroke="#1f1f1f" stroke-width="0.9"/>
<text x="353.80" y="72.25" font-family="Liberation Sans" font-size="7.65" textLength="22.1" lengthAdjust="spacingAndGlyphs" fill="#4d4d4d">0.0075</text>
<line x1="437.20" y1="237.3" x2="437.20" y2="239.60000000000002" stroke="#1f1f1f" stroke-width="0.9"/>
<text x="441.60" y="246.90" font-family="Liberation Sans" font-size="7.3" text-anchor="middle" fill="#4d4d4d">None pleiotropy</text>
<line x1="532.70" y1="237.3" x2="532.70" y2="239.60000000000002" stroke="#1f1f1f" stroke-width="0.9"/>
<text x="532.70" y="246.90" font-family="Liberation Sans" font-size="7.3" text-anchor="middle" fill="#4d4d4d">Pleiotropy on all traits</text>
<line x1="628.20" y1="237.3" x2="628.20" y2="239.60000000000002" stroke="#1f1f1f" stroke-width="0.9"/>
<text x="628.20" y="246.90" font-family="Liberation Sans" font-size="7.3" text-anchor="middle" fill="#4d4d4d">Pleiotropy on UG production</text>
<text x="181.3" y="281.6" font-family="Liberation Sans" font-weight="bold" font-size="14.6" text-anchor="middle" fill="#000">Mean population fitness</text>
<text x="0.3" y="269.0" font-family="Liberation Sans" font-weight="bold" font-size="14.6" fill="#000">C</text>
<line x1="133.62" y1="291.1" x2="133.62" y2="496.2" stroke="#ff1f1f" stroke-width="1.1" stroke-dasharray="3.5 3.45"/>
<path d="M93.20,320.00 L93.56,320.49 L94.04,321.16 L94.62,321.96 L95.26,322.82 L95.89,323.69 L96.50,324.50 L97.09,325.27 L97.69,326.05 L98.31,326.84 L98.92,327.63 L99.52,328.41 L100.10,329.20 L100.66,329.98 L101.21,330.77 L101.74,331.55 L102.27,332.33 L102.79,333.12 L103.30,333.90 L103.81,334.68 L104.31,335.46 L104.80,336.24 L105.28,337.03 L105.75,337.81 L106.20,338.60 L106.63,339.40 L107.04,340.20 L107.44,341.00 L107.83,341.80 L108.21,342.60 L108.60,343.40 L108.99,344.19 L109.37,344.97 L109.75,345.76 L110.13,346.54 L110.51,347.32 L110.90,348.10 L111.29,348.88 L111.69,349.66 L112.09,350.44 L112.50,351.23 L112.90,352.01 L113.30,352.80 L113.70,353.60 L114.10,354.40 L114.51,355.20 L114.91,356.00 L115.31,356.80 L115.70,357.60 L116.09,358.39 L116.48,359.17 L116.86,359.96 L117.24,360.74 L117.62,361.52 L118.00,362.30 L118.38,363.07 L118.77,363.83 L119.16,364.59 L119.54,365.36 L119.89,366.16 L120.20,367.00 L120.48,367.90 L120.74,368.86 L120.98,369.84 L121.19,370.83 L121.36,371.79 L121.50,372.70 L121.60,373.55 L121.67,374.37 L121.71,375.16 L121.71,375.94 L121.67,376.72 L121.60,377.50 L121.48,378.29 L121.32,379.07 L121.12,379.86 L120.89,380.64 L120.65,381.42 L120.40,382.20 L120.13,382.98 L119.84,383.77 L119.53,384.55 L119.21,385.33 L118.90,386.12 L118.60,386.90 L118.31,387.68 L118.03,388.46 L117.75,389.24 L117.47,390.03 L117.19,390.81 L116.90,391.60 L116.61,392.40 L116.31,393.20 L116.01,394.00 L115.70,394.80 L115.40,395.60 L115.10,396.40 L114.81,397.19 L114.52,397.97 L114.24,398.76 L113.94,399.54 L113.63,400.32 L113.30,401.10 L112.93,401.88 L112.54,402.66 L112.13,403.44 L111.71,404.23 L111.30,405.01 L110.90,405.80 L110.51,406.60 L110.13,407.40 L109.75,408.20 L109.37,409.00 L108.99,409.80 L108.60,410.60 L108.21,411.39 L107.81,412.17 L107.41,412.96 L107.01,413.74 L106.61,414.52 L106.20,415.30 L105.82,416.08 L105.46,416.85 L105.10,417.62 L104.71,418.40 L104.25,419.19 L103.70,420.00 L103.02,420.83 L102.21,421.67 L101.35,422.52 L100.47,423.38 L99.64,424.24 L98.90,425.10 L98.25,425.96 L97.66,426.83 L97.11,427.70 L96.59,428.57 L96.09,429.44 L95.60,430.30 L95.13,431.16 L94.70,432.01 L94.29,432.86 L93.89,433.70 L93.50,434.55 L93.10,435.40 L92.70,436.25 L92.30,437.10 L91.90,437.95 L91.52,438.80 L91.15,439.65 L90.80,440.50 L90.47,441.35 L90.16,442.20 L89.87,443.04 L89.58,443.89 L89.31,444.74 L89.05,445.60 L88.80,446.46 L88.55,447.33 L88.32,448.20 L88.10,449.07 L87.89,449.94 L87.70,450.80 L87.52,451.66 L87.35,452.51 L87.19,453.36 L87.05,454.20 L86.92,455.05 L86.80,455.90 L86.69,456.74 L86.60,457.57 L86.52,458.39 L86.45,459.23 L86.40,460.10 L86.35,461.00 L86.31,461.95 L86.29,462.93 L86.28,463.94 L86.28,464.97 L86.28,465.99 L86.30,467.00 L86.33,468.00 L86.37,468.99 L86.43,469.99 L86.48,470.99 L86.54,471.99 L86.60,473.00 L86.66,474.09 L86.73,475.28 L86.79,476.48 L86.86,477.59 L86.91,478.52 L86.95,479.20 L84.45,479.20 L84.49,478.52 L84.54,477.59 L84.61,476.48 L84.67,475.28 L84.74,474.09 L84.80,473.00 L84.86,471.99 L84.92,470.99 L84.97,469.99 L85.03,468.99 L85.07,468.00 L85.10,467.00 L85.12,465.99 L85.12,464.97 L85.12,463.94 L85.11,462.93 L85.09,461.95 L85.05,461.00 L85.00,460.10 L84.95,459.23 L84.88,458.39 L84.80,457.57 L84.71,456.74 L84.60,455.90 L84.48,455.05 L84.35,454.20 L84.21,453.36 L84.05,452.51 L83.88,451.66 L83.70,450.80 L83.51,449.94 L83.30,449.07 L83.08,448.20 L82.85,447.33 L82.60,446.46 L82.35,445.60 L82.09,444.74 L81.82,443.89 L81.53,443.04 L81.24,442.20 L80.93,441.35 L80.60,440.50 L80.25,439.65 L79.88,438.80 L79.50,437.95 L79.10,437.10 L78.70,436.25 L78.30,435.40 L77.90,434.55 L77.51,433.70 L77.11,432.86 L76.70,432.01 L76.27,431.16 L75.80,430.30 L75.31,429.44 L74.81,428.57 L74.29,427.70 L73.74,426.83 L73.15,425.96 L72.50,425.10 L71.76,424.24 L70.93,423.38 L70.05,422.52 L69.19,421.67 L68.38,420.83 L67.70,420.00 L67.15,419.19 L66.69,418.40 L66.30,417.62 L65.94,416.85 L65.58,416.08 L65.20,415.30 L64.79,414.52 L64.39,413.74 L63.99,412.96 L63.59,412.17 L63.19,411.39 L62.80,410.60 L62.41,409.80 L62.03,409.00 L61.65,408.20 L61.27,407.40 L60.89,406.60 L60.50,405.80 L60.10,405.01 L59.69,404.23 L59.27,403.44 L58.86,402.66 L58.47,401.88 L58.10,401.10 L57.77,400.32 L57.46,399.54 L57.16,398.76 L56.88,397.97 L56.59,397.19 L56.30,396.40 L56.00,395.60 L55.70,394.80 L55.39,394.00 L55.09,393.20 L54.79,392.40 L54.50,391.60 L54.21,390.81 L53.93,390.03 L53.65,389.24 L53.37,388.46 L53.09,387.68 L52.80,386.90 L52.50,386.12 L52.19,385.33 L51.87,384.55 L51.56,383.77 L51.27,382.98 L51.00,382.20 L50.75,381.42 L50.51,380.64 L50.28,379.86 L50.08,379.07 L49.92,378.29 L49.80,377.50 L49.73,376.72 L49.69,375.94 L49.69,375.16 L49.73,374.37 L49.80,373.55 L49.90,372.70 L50.04,371.79 L50.21,370.83 L50.42,369.84 L50.66,368.86 L50.92,367.90 L51.20,367.00 L51.51,366.16 L51.86,365.36 L52.24,364.59 L52.63,363.83 L53.02,363.07 L53.40,362.30 L53.78,361.52 L54.16,360.74 L54.54,359.96 L54.92,359.17 L55.31,358.39 L55.70,357.60 L56.09,356.80 L56.49,356.00 L56.89,355.20 L57.30,354.40 L57.70,353.60 L58.10,352.80 L58.50,352.01 L58.90,351.23 L59.31,350.44 L59.71,349.66 L60.11,348.88 L60.50,348.10 L60.89,347.32 L61.27,346.54 L61.65,345.76 L62.03,344.97 L62.41,344.19 L62.80,343.40 L63.19,342.60 L63.57,341.80 L63.96,341.00 L64.36,340.20 L64.77,339.40 L65.20,338.60 L65.65,337.81 L66.12,337.03 L66.60,336.24 L67.09,335.46 L67.59,334.68 L68.10,333.90 L68.61,333.12 L69.13,332.33 L69.66,331.55 L70.19,330.77 L70.74,329.98 L71.30,329.20 L71.88,328.41 L72.48,327.63 L73.09,326.84 L73.71,326.05 L74.31,325.27 L74.90,324.50 L75.51,323.69 L76.14,322.82 L76.78,321.96 L77.36,321.16 L77.84,320.49 L78.20,320.00 Z" fill="#F99F98" stroke="#1e1e1e" stroke-width="0.95" stroke-linejoin="round"/>
<line x1="85.70" y1="319.8" x2="85.70" y2="444.5" stroke="#333" stroke-width="0.7"/>
<rect x="78.55" y="356.6" width="14.30" height="42.40" fill="#F8766D" stroke="#1a1a1a" stroke-width="0.85"/>
<line x1="78.55" y1="376.9" x2="92.85" y2="376.9" stroke="#1a1a1a" stroke-width="1.0"/>
<path d="M182.90,298.50 L183.02,299.17 L183.19,300.10 L183.39,301.21 L183.61,302.37 L183.85,303.51 L184.10,304.50 L184.35,305.36 L184.61,306.16 L184.89,306.93 L185.20,307.68 L185.53,308.43 L185.90,309.20 L186.30,309.98 L186.74,310.77 L187.20,311.55 L187.70,312.33 L188.23,313.12 L188.80,313.90 L189.43,314.68 L190.11,315.46 L190.83,316.24 L191.56,317.03 L192.29,317.81 L193.00,318.60 L193.69,319.40 L194.39,320.20 L195.09,321.00 L195.77,321.80 L196.45,322.60 L197.10,323.40 L197.73,324.19 L198.34,324.97 L198.94,325.76 L199.53,326.54 L200.11,327.32 L200.70,328.10 L201.29,328.88 L201.87,329.66 L202.45,330.44 L203.03,331.23 L203.61,332.01 L204.20,332.80 L204.80,333.60 L205.40,334.40 L206.00,335.20 L206.60,336.00 L207.20,336.80 L207.80,337.60 L208.39,338.39 L208.97,339.17 L209.56,339.96 L210.14,340.74 L210.72,341.52 L211.30,342.30 L211.88,343.08 L212.46,343.86 L213.04,344.64 L213.63,345.43 L214.21,346.21 L214.80,347.00 L215.41,347.81 L216.05,348.65 L216.69,349.49 L217.31,350.31 L217.89,351.09 L218.40,351.80 L218.84,352.41 L219.22,352.94 L219.56,353.42 L219.87,353.90 L220.14,354.41 L220.40,355.00 L220.64,355.67 L220.87,356.40 L221.06,357.16 L221.22,357.94 L221.34,358.72 L221.40,359.50 L221.41,360.27 L221.36,361.05 L221.28,361.84 L221.15,362.63 L220.99,363.41 L220.80,364.20 L220.57,364.98 L220.29,365.77 L219.98,366.55 L219.64,367.33 L219.31,368.12 L219.00,368.90 L218.71,369.68 L218.42,370.46 L218.14,371.24 L217.84,372.03 L217.53,372.81 L217.20,373.60 L216.84,374.40 L216.46,375.20 L216.07,376.00 L215.66,376.80 L215.24,377.60 L214.80,378.40 L214.35,379.19 L213.87,379.97 L213.39,380.76 L212.89,381.54 L212.39,382.32 L211.90,383.10 L211.40,383.88 L210.90,384.66 L210.40,385.44 L209.90,386.23 L209.40,387.01 L208.90,387.80 L208.41,388.60 L207.92,389.40 L207.44,390.20 L206.96,391.00 L206.48,391.80 L206.00,392.60 L205.52,393.41 L205.04,394.25 L204.56,395.08 L204.09,395.89 L203.63,396.63 L203.20,397.30 L202.82,397.82 L202.49,398.21 L202.17,398.54 L201.84,398.90 L201.46,399.36 L201.00,400.00 L200.44,400.85 L199.81,401.86 L199.13,402.97 L198.43,404.13 L197.75,405.29 L197.10,406.40 L196.48,407.47 L195.87,408.53 L195.27,409.60 L194.69,410.67 L194.13,411.73 L193.60,412.80 L193.11,413.87 L192.64,414.93 L192.20,416.00 L191.78,417.07 L191.38,418.13 L191.00,419.20 L190.64,420.27 L190.31,421.33 L190.01,422.39 L189.71,423.46 L189.41,424.53 L189.10,425.60 L188.78,426.68 L188.46,427.76 L188.13,428.85 L187.81,429.94 L187.50,431.02 L187.20,432.10 L186.91,433.17 L186.64,434.24 L186.37,435.31 L186.10,436.37 L185.85,437.43 L185.60,438.50 L185.36,439.57 L185.12,440.63 L184.90,441.70 L184.68,442.77 L184.46,443.83 L184.25,444.90 L184.04,445.96 L183.84,447.01 L183.63,448.06 L183.44,449.12 L183.26,450.20 L183.10,451.30 L182.95,452.51 L182.81,453.85 L182.68,455.20 L182.56,456.46 L182.47,457.53 L182.40,458.30 L180.40,458.30 L180.33,457.53 L180.24,456.46 L180.12,455.20 L179.99,453.85 L179.85,452.51 L179.70,451.30 L179.54,450.20 L179.36,449.12 L179.17,448.06 L178.96,447.01 L178.76,445.96 L178.55,444.90 L178.34,443.83 L178.12,442.77 L177.90,441.70 L177.68,440.63 L177.44,439.57 L177.20,438.50 L176.95,437.43 L176.70,436.37 L176.43,435.31 L176.16,434.24 L175.89,433.17 L175.60,432.10 L175.30,431.02 L174.99,429.94 L174.67,428.85 L174.34,427.76 L174.02,426.68 L173.70,425.60 L173.39,424.53 L173.09,423.46 L172.79,422.39 L172.49,421.33 L172.16,420.27 L171.80,419.20 L171.42,418.13 L171.02,417.07 L170.60,416.00 L170.16,414.93 L169.69,413.87 L169.20,412.80 L168.67,411.73 L168.11,410.67 L167.53,409.60 L166.93,408.53 L166.32,407.47 L165.70,406.40 L165.05,405.29 L164.37,404.13 L163.67,402.97 L162.99,401.86 L162.36,400.85 L161.80,400.00 L161.34,399.36 L160.96,398.90 L160.63,398.54 L160.31,398.21 L159.98,397.82 L159.60,397.30 L159.17,396.63 L158.71,395.89 L158.24,395.08 L157.76,394.25 L157.28,393.41 L156.80,392.60 L156.32,391.80 L155.84,391.00 L155.36,390.20 L154.88,389.40 L154.39,388.60 L153.90,387.80 L153.40,387.01 L152.90,386.23 L152.40,385.44 L151.90,384.66 L151.40,383.88 L150.90,383.10 L150.41,382.32 L149.91,381.54 L149.41,380.76 L148.93,379.97 L148.45,379.19 L148.00,378.40 L147.56,377.60 L147.14,376.80 L146.73,376.00 L146.34,375.20 L145.96,374.40 L145.60,373.60 L145.27,372.81 L144.96,372.03 L144.66,371.24 L144.38,370.46 L144.09,369.68 L143.80,368.90 L143.49,368.12 L143.16,367.33 L142.82,366.55 L142.51,365.77 L142.23,364.98 L142.00,364.20 L141.81,363.41 L141.65,362.63 L141.53,361.84 L141.44,361.05 L141.39,360.27 L141.40,359.50 L141.46,358.72 L141.58,357.94 L141.74,357.16 L141.93,356.40 L142.16,355.67 L142.40,355.00 L142.66,354.41 L142.93,353.90 L143.24,353.42 L143.58,352.94 L143.96,352.41 L144.40,351.80 L144.91,351.09 L145.49,350.31 L146.11,349.49 L146.75,348.65 L147.39,347.81 L148.00,347.00 L148.59,346.21 L149.17,345.43 L149.76,344.64 L150.34,343.86 L150.92,343.08 L151.50,342.30 L152.08,341.52 L152.66,340.74 L153.24,339.96 L153.83,339.17 L154.41,338.39 L155.00,337.60 L155.60,336.80 L156.20,336.00 L156.80,335.20 L157.40,334.40 L158.00,333.60 L158.60,332.80 L159.19,332.01 L159.77,331.23 L160.35,330.44 L160.93,329.66 L161.51,328.88 L162.10,328.10 L162.69,327.32 L163.27,326.54 L163.86,325.76 L164.46,324.97 L165.07,324.19 L165.70,323.40 L166.35,322.60 L167.03,321.80 L167.71,321.00 L168.41,320.20 L169.11,319.40 L169.80,318.60 L170.51,317.81 L171.24,317.03 L171.97,316.24 L172.69,315.46 L173.37,314.68 L174.00,313.90 L174.57,313.12 L175.10,312.33 L175.60,311.55 L176.06,310.77 L176.50,309.98 L176.90,309.20 L177.27,308.43 L177.60,307.68 L177.91,306.93 L178.19,306.16 L178.45,305.36 L178.70,304.50 L178.95,303.51 L179.19,302.37 L179.41,301.21 L179.61,300.10 L179.78,299.17 L179.90,298.50 Z" fill="#4DCB75" stroke="#1e1e1e" stroke-width="0.95" stroke-linejoin="round"/>
<line x1="181.40" y1="298.5" x2="181.40" y2="440.4" stroke="#333" stroke-width="0.7"/>
<rect x="174.25" y="349.5" width="14.30" height="37.40" fill="#00C23D" stroke="#1a1a1a" stroke-width="0.85"/>
<line x1="174.25" y1="368.0" x2="188.55" y2="368.0" stroke="#1a1a1a" stroke-width="1.0"/>
<path d="M280.20,298.30 L280.37,298.99 L280.60,299.96 L280.88,301.11 L281.17,302.31 L281.45,303.48 L281.70,304.50 L281.92,305.37 L282.12,306.18 L282.32,306.94 L282.51,307.69 L282.70,308.43 L282.90,309.20 L283.09,309.98 L283.28,310.77 L283.47,311.55 L283.66,312.33 L283.87,313.12 L284.10,313.90 L284.34,314.68 L284.58,315.46 L284.84,316.24 L285.12,317.03 L285.44,317.81 L285.80,318.60 L286.22,319.40 L286.69,320.20 L287.19,321.00 L287.71,321.80 L288.26,322.60 L288.80,323.40 L289.35,324.19 L289.93,324.97 L290.51,325.76 L291.11,326.54 L291.71,327.32 L292.30,328.10 L292.89,328.88 L293.47,329.66 L294.06,330.44 L294.66,331.23 L295.27,332.01 L295.90,332.80 L296.55,333.60 L297.23,334.40 L297.91,335.20 L298.61,336.00 L299.31,336.80 L300.00,337.60 L300.70,338.39 L301.40,339.17 L302.10,339.96 L302.80,340.74 L303.50,341.52 L304.20,342.30 L304.89,343.08 L305.57,343.86 L306.26,344.64 L306.94,345.43 L307.62,346.21 L308.30,347.00 L308.98,347.82 L309.66,348.66 L310.34,349.51 L311.03,350.34 L311.71,351.11 L312.40,351.80 L313.11,352.37 L313.85,352.84 L314.59,353.25 L315.31,353.66 L315.99,354.13 L316.60,354.70 L317.16,355.39 L317.70,356.16 L318.19,356.99 L318.62,357.84 L318.96,358.68 L319.20,359.50 L319.32,360.29 L319.33,361.07 L319.26,361.86 L319.12,362.64 L318.93,363.42 L318.70,364.20 L318.42,364.98 L318.06,365.77 L317.66,366.55 L317.21,367.33 L316.76,368.12 L316.30,368.90 L315.84,369.68 L315.36,370.46 L314.87,371.24 L314.36,372.03 L313.84,372.81 L313.30,373.60 L312.75,374.40 L312.17,375.20 L311.58,376.00 L310.99,376.80 L310.39,377.60 L309.80,378.40 L309.22,379.19 L308.64,379.97 L308.06,380.76 L307.47,381.54 L306.89,382.32 L306.30,383.10 L305.69,383.88 L305.07,384.66 L304.44,385.44 L303.83,386.23 L303.24,387.01 L302.70,387.80 L302.21,388.60 L301.75,389.40 L301.32,390.20 L300.91,391.00 L300.50,391.80 L300.10,392.60 L299.69,393.41 L299.27,394.25 L298.87,395.08 L298.48,395.89 L298.12,396.63 L297.80,397.30 L297.57,397.79 L297.44,398.12 L297.33,398.39 L297.19,398.71 L296.93,399.21 L296.50,400.00 L295.85,401.13 L295.05,402.51 L294.13,404.07 L293.15,405.71 L292.18,407.35 L291.25,408.90 L290.33,410.37 L289.37,411.84 L288.40,413.30 L287.47,414.76 L286.63,416.23 L285.90,417.70 L285.32,419.18 L284.86,420.66 L284.48,422.14 L284.14,423.63 L283.81,425.12 L283.45,426.60 L283.06,428.08 L282.68,429.57 L282.30,431.06 L281.94,432.54 L281.61,434.02 L281.30,435.50 L281.04,436.97 L280.82,438.42 L280.62,439.87 L280.43,441.33 L280.23,442.80 L280.00,444.30 L279.73,445.88 L279.44,447.54 L279.13,449.22 L278.84,450.85 L278.57,452.36 L278.35,453.70 L278.18,454.81 L278.05,455.72 L277.94,456.52 L277.86,457.29 L277.78,458.09 L277.70,459.00 L277.62,459.99 L277.56,461.00 L277.50,462.04 L277.44,463.14 L277.40,464.32 L277.35,465.60 L277.31,466.99 L277.27,468.47 L277.23,470.03 L277.20,471.64 L277.17,473.31 L277.15,475.00 L277.13,476.87 L277.12,478.96 L277.11,481.09 L277.11,483.09 L277.10,484.78 L277.10,486.00 L276.10,486.00 L276.10,484.78 L276.09,483.09 L276.09,481.09 L276.08,478.96 L276.07,476.87 L276.05,475.00 L276.03,473.31 L276.00,471.64 L275.97,470.03 L275.93,468.47 L275.89,466.99 L275.85,465.60 L275.80,464.32 L275.76,463.14 L275.70,462.04 L275.64,461.00 L275.58,459.99 L275.50,459.00 L275.42,458.09 L275.34,457.29 L275.26,456.52 L275.15,455.72 L275.02,454.81 L274.85,453.70 L274.63,452.36 L274.36,450.85 L274.07,449.22 L273.76,447.54 L273.47,445.88 L273.20,444.30 L272.97,442.80 L272.77,441.33 L272.58,439.87 L272.38,438.42 L272.16,436.97 L271.90,435.50 L271.59,434.02 L271.26,432.54 L270.90,431.06 L270.52,429.57 L270.14,428.08 L269.75,426.60 L269.39,425.12 L269.06,423.63 L268.73,422.14 L268.34,420.66 L267.88,419.18 L267.30,417.70 L266.57,416.23 L265.73,414.76 L264.80,413.30 L263.83,411.84 L262.87,410.37 L261.95,408.90 L261.02,407.35 L260.05,405.71 L259.07,404.07 L258.15,402.51 L257.35,401.13 L256.70,400.00 L256.27,399.21 L256.01,398.71 L255.87,398.39 L255.76,398.12 L255.63,397.79 L255.40,397.30 L255.08,396.63 L254.72,395.89 L254.33,395.08 L253.93,394.25 L253.51,393.41 L253.10,392.60 L252.70,391.80 L252.29,391.00 L251.88,390.20 L251.45,389.40 L250.99,388.60 L250.50,387.80 L249.96,387.01 L249.37,386.23 L248.76,385.44 L248.13,384.66 L247.51,383.88 L246.90,383.10 L246.31,382.32 L245.73,381.54 L245.14,380.76 L244.56,379.97 L243.98,379.19 L243.40,378.40 L242.81,377.60 L242.21,376.80 L241.62,376.00 L241.03,375.20 L240.45,374.40 L239.90,373.60 L239.36,372.81 L238.84,372.03 L238.33,371.24 L237.84,370.46 L237.36,369.68 L236.90,368.90 L236.44,368.12 L235.99,367.33 L235.54,366.55 L235.14,365.77 L234.78,364.98 L234.50,364.20 L234.27,363.42 L234.08,362.64 L233.94,361.86 L233.87,361.07 L233.88,360.29 L234.00,359.50 L234.24,358.68 L234.58,357.84 L235.01,356.99 L235.50,356.16 L236.04,355.39 L236.60,354.70 L237.21,354.13 L237.89,353.66 L238.61,353.25 L239.35,352.84 L240.09,352.37 L240.80,351.80 L241.49,351.11 L242.17,350.34 L242.86,349.51 L243.54,348.66 L244.22,347.82 L244.90,347.00 L245.58,346.21 L246.26,345.43 L246.94,344.64 L247.63,343.86 L248.31,343.08 L249.00,342.30 L249.70,341.52 L250.40,340.74 L251.10,339.96 L251.80,339.17 L252.50,338.39 L253.20,337.60 L253.89,336.80 L254.59,336.00 L255.29,335.20 L255.97,334.40 L256.65,333.60 L257.30,332.80 L257.93,332.01 L258.54,331.23 L259.14,330.44 L259.73,329.66 L260.31,328.88 L260.90,328.10 L261.49,327.32 L262.09,326.54 L262.69,325.76 L263.27,324.97 L263.85,324.19 L264.40,323.40 L264.94,322.60 L265.49,321.80 L266.01,321.00 L266.51,320.20 L266.98,319.40 L267.40,318.60 L267.76,317.81 L268.08,317.03 L268.36,316.24 L268.62,315.46 L268.86,314.68 L269.10,313.90 L269.33,313.12 L269.54,312.33 L269.73,311.55 L269.92,310.77 L270.11,309.98 L270.30,309.20 L270.50,308.43 L270.69,307.69 L270.88,306.94 L271.08,306.18 L271.28,305.37 L271.50,304.50 L271.75,303.48 L272.03,302.31 L272.32,301.11 L272.60,299.96 L272.83,298.99 L273.00,298.30 Z" fill="#92BBFF" stroke="#1e1e1e" stroke-width="0.95" stroke-linejoin="round"/>
<line x1="276.60" y1="298.3" x2="276.60" y2="440" stroke="#333" stroke-width="0.7"/>
<rect x="269.45" y="350.0" width="14.30" height="39.00" fill="#6aa2ff" stroke="#1a1a1a" stroke-width="0.85"/>
<line x1="269.45" y1="366.2" x2="283.75" y2="366.2" stroke="#1a1a1a" stroke-width="1.0"/>
<g fill="#000" fill-opacity="0.6"><circle cx="71.5" cy="318.9" r="2.75"/><circle cx="68.6" cy="324.2" r="2.75"/><circle cx="73.5" cy="325.4" r="2.75"/><circle cx="67.6" cy="333.7" r="2.75"/><circle cx="68.6" cy="336.6" r="2.75"/><circle cx="83.0" cy="327.3" r="2.75"/><circle cx="97.2" cy="330.7" r="2.75"/><circle cx="102.1" cy="330.7" r="2.75"/><circle cx="76.5" cy="336.6" r="2.75"/><circle cx="84.3" cy="340.5" r="2.75"/><circle cx="70.5" cy="346.5" r="2.75"/><circle cx="76.5" cy="346.5" r="2.75"/><circle cx="71.5" cy="351.4" r="2.75"/><circle cx="76.5" cy="351.4" r="2.75"/><circle cx="87.3" cy="346.5" r="2.75"/><circle cx="97.2" cy="345.5" r="2.75"/><circle cx="104.1" cy="349.4" r="2.75"/><circle cx="94.2" cy="352.4" r="2.75"/><circle cx="105.0" cy="354.9" r="2.75"/><circle cx="84.3" cy="353.4" r="2.75"/><circle cx="96.2" cy="356.3" r="2.75"/><circle cx="84.3" cy="359.3" r="2.75"/><circle cx="87.3" cy="358.3" r="2.75"/><circle cx="75.5" cy="362.8" r="2.75"/><circle cx="82.4" cy="363.2" r="2.75"/><circle cx="86.3" cy="364.2" r="2.75"/><circle cx="83.4" cy="367.2" r="2.75"/><circle cx="88.3" cy="367.2" r="2.75"/><circle cx="95.2" cy="368.1" r="2.75"/><circle cx="100.1" cy="367.2" r="2.75"/><circle cx="101.1" cy="370.1" r="2.75"/><circle cx="72.5" cy="370.1" r="2.75"/><circle cx="67.6" cy="372.1" r="2.75"/><circle cx="69.6" cy="373.1" r="2.75"/><circle cx="74.5" cy="373.1" r="2.75"/><circle cx="73.7" cy="372.6" r="2.75"/><circle cx="78.4" cy="368.1" r="2.75"/><circle cx="89.3" cy="373.1" r="2.75"/><circle cx="88.3" cy="378.0" r="2.75"/><circle cx="93.2" cy="375.0" r="2.75"/><circle cx="99.1" cy="373.1" r="2.75"/><circle cx="69.6" cy="378.0" r="2.75"/><circle cx="71.5" cy="381.0" r="2.75"/><circle cx="73.5" cy="383.9" r="2.75"/><circle cx="103.1" cy="379.0" r="2.75"/><circle cx="76.5" cy="384.9" r="2.75"/><circle cx="77.4" cy="388.8" r="2.75"/><circle cx="75.5" cy="390.8" r="2.75"/><circle cx="88.3" cy="384.9" r="2.75"/><circle cx="101.1" cy="387.8" r="2.75"/><circle cx="99.1" cy="390.8" r="2.75"/><circle cx="71.5" cy="394.7" r="2.75"/><circle cx="71.4" cy="396.1" r="2.75"/><circle cx="76.3" cy="399.3" r="2.75"/><circle cx="86.1" cy="399.3" r="2.75"/><circle cx="92.6" cy="398.3" r="2.75"/><circle cx="99.6" cy="396.1" r="2.75"/><circle cx="104.5" cy="399.3" r="2.75"/><circle cx="74.1" cy="408.6" r="2.75"/><circle cx="75.7" cy="411.8" r="2.75"/><circle cx="81.7" cy="410.2" r="2.75"/><circle cx="88.8" cy="406.9" r="2.75"/><circle cx="94.2" cy="406.9" r="2.75"/><circle cx="95.8" cy="409.1" r="2.75"/><circle cx="99.1" cy="408.0" r="2.75"/><circle cx="102.9" cy="405.9" r="2.75"/><circle cx="94.2" cy="412.9" r="2.75"/><circle cx="104.0" cy="411.8" r="2.75"/><circle cx="85.0" cy="417.8" r="2.75"/><circle cx="87.1" cy="418.9" r="2.75"/><circle cx="70.3" cy="421.1" r="2.75"/><circle cx="70.9" cy="424.9" r="2.75"/><circle cx="92.0" cy="424.9" r="2.75"/><circle cx="97.5" cy="429.2" r="2.75"/><circle cx="100.7" cy="431.9" r="2.75"/><circle cx="101.3" cy="434.6" r="2.75"/><circle cx="83.3" cy="433.5" r="2.75"/><circle cx="102.3" cy="445.0" r="2.75"/><circle cx="79.1" cy="479.2" r="2.75"/></g>
<g fill="#000" fill-opacity="0.6"><circle cx="198.3" cy="362.5" r="2.75"/><circle cx="178.8" cy="361.6" r="2.75"/><circle cx="182.4" cy="363.3" r="2.75"/><circle cx="186.5" cy="351.2" r="2.75"/><circle cx="169.1" cy="386.4" r="2.75"/><circle cx="188.6" cy="351.9" r="2.75"/><circle cx="177.1" cy="347.2" r="2.75"/><circle cx="172.8" cy="388.8" r="2.75"/><circle cx="174.1" cy="380.0" r="2.75"/><circle cx="190.6" cy="385.5" r="2.75"/><circle cx="168.4" cy="358.5" r="2.75"/><circle cx="164.8" cy="379.6" r="2.75"/><circle cx="196.0" cy="360.5" r="2.75"/><circle cx="200.2" cy="348.8" r="2.75"/><circle cx="179.5" cy="349.0" r="2.75"/><circle cx="180.3" cy="382.6" r="2.75"/><circle cx="196.4" cy="392.7" r="2.75"/><circle cx="170.9" cy="350.2" r="2.75"/><circle cx="180.3" cy="374.6" r="2.75"/><circle cx="162.6" cy="348.3" r="2.75"/><circle cx="183.6" cy="351.7" r="2.75"/><circle cx="191.2" cy="370.4" r="2.75"/><circle cx="177.9" cy="350.4" r="2.75"/><circle cx="175.8" cy="393.0" r="2.75"/><circle cx="168.5" cy="378.8" r="2.75"/><circle cx="167.2" cy="394.0" r="2.75"/><circle cx="193.5" cy="370.8" r="2.75"/><circle cx="196.2" cy="348.3" r="2.75"/><circle cx="190.0" cy="348.3" r="2.75"/><circle cx="184.7" cy="370.7" r="2.75"/><circle cx="183.0" cy="369.3" r="2.75"/><circle cx="190.1" cy="374.0" r="2.75"/><circle cx="176.8" cy="393.8" r="2.75"/><circle cx="173.9" cy="373.0" r="2.75"/><circle cx="165.0" cy="383.7" r="2.75"/><circle cx="189.7" cy="353.0" r="2.75"/><circle cx="170.2" cy="397.1" r="2.75"/><circle cx="187.0" cy="358.1" r="2.75"/><circle cx="188.1" cy="367.6" r="2.75"/><circle cx="178.5" cy="392.3" r="2.75"/><circle cx="196.7" cy="380.7" r="2.75"/><circle cx="196.6" cy="356.3" r="2.75"/><circle cx="178.5" cy="355.2" r="2.75"/><circle cx="177.4" cy="354.6" r="2.75"/><circle cx="194.9" cy="379.9" r="2.75"/><circle cx="196.7" cy="360.5" r="2.75"/><circle cx="167.6" cy="348.0" r="2.75"/><circle cx="194.2" cy="386.7" r="2.75"/><circle cx="186.4" cy="361.0" r="2.75"/><circle cx="187.9" cy="387.4" r="2.75"/><circle cx="183.5" cy="381.1" r="2.75"/><circle cx="200.3" cy="374.5" r="2.75"/><circle cx="166.2" cy="390.1" r="2.75"/><circle cx="169.6" cy="356.8" r="2.75"/><circle cx="170.1" cy="349.9" r="2.75"/><circle cx="179.4" cy="392.9" r="2.75"/><circle cx="183.8" cy="381.7" r="2.75"/><circle cx="183.7" cy="348.4" r="2.75"/><circle cx="179.0" cy="356.9" r="2.75"/><circle cx="174.9" cy="384.0" r="2.75"/><circle cx="185.1" cy="395.9" r="2.75"/><circle cx="197.6" cy="384.7" r="2.75"/><circle cx="189.2" cy="358.8" r="2.75"/><circle cx="196.3" cy="374.0" r="2.75"/><circle cx="174.5" cy="392.2" r="2.75"/><circle cx="189.2" cy="345.5" r="2.75"/><circle cx="168.6" cy="366.4" r="2.75"/><circle cx="172.1" cy="356.3" r="2.75"/><circle cx="175.7" cy="362.0" r="2.75"/><circle cx="192.4" cy="372.5" r="2.75"/><circle cx="175.4" cy="357.1" r="2.75"/><circle cx="192.1" cy="347.4" r="2.75"/><circle cx="177.8" cy="389.7" r="2.75"/><circle cx="187.3" cy="378.9" r="2.75"/><circle cx="196.2" cy="393.5" r="2.75"/><circle cx="165.0" cy="387.0" r="2.75"/><circle cx="184.5" cy="362.4" r="2.75"/><circle cx="174.5" cy="353.9" r="2.75"/><circle cx="189.4" cy="366.1" r="2.75"/><circle cx="196.4" cy="358.7" r="2.75"/><circle cx="164.6" cy="363.3" r="2.75"/><circle cx="189.2" cy="372.7" r="2.75"/><circle cx="183.1" cy="370.5" r="2.75"/><circle cx="177.9" cy="393.6" r="2.75"/><circle cx="187.1" cy="381.5" r="2.75"/><circle cx="180.6" cy="368.0" r="2.75"/><circle cx="178.7" cy="348.4" r="2.75"/><circle cx="164.4" cy="363.8" r="2.75"/><circle cx="184.1" cy="364.1" r="2.75"/><circle cx="199.1" cy="379.1" r="2.75"/><circle cx="165.3" cy="357.3" r="2.75"/><circle cx="199.1" cy="387.0" r="2.75"/><circle cx="172.6" cy="351.3" r="2.75"/><circle cx="171.1" cy="368.1" r="2.75"/><circle cx="172.7" cy="352.3" r="2.75"/><circle cx="171.3" cy="359.5" r="2.75"/><circle cx="184.3" cy="348.5" r="2.75"/><circle cx="193.5" cy="353.8" r="2.75"/><circle cx="168.2" cy="379.9" r="2.75"/><circle cx="163.6" cy="389.1" r="2.75"/><circle cx="185.2" cy="321.3" r="2.75"/><circle cx="189.2" cy="323.1" r="2.75"/><circle cx="167.9" cy="326.6" r="2.75"/><circle cx="173.6" cy="329.3" r="2.75"/><circle cx="164.8" cy="332.0" r="2.75"/><circle cx="163.9" cy="333.7" r="2.75"/><circle cx="177.6" cy="335.0" r="2.75"/><circle cx="181.6" cy="335.0" r="2.75"/><circle cx="183.8" cy="335.0" r="2.75"/><circle cx="191.4" cy="331.1" r="2.75"/><circle cx="197.6" cy="330.6" r="2.75"/><circle cx="199.4" cy="332.8" r="2.75"/><circle cx="194.0" cy="335.5" r="2.75"/><circle cx="196.7" cy="336.4" r="2.75"/><circle cx="187.8" cy="339.9" r="2.75"/><circle cx="200.3" cy="339.9" r="2.75"/><circle cx="169.6" cy="343.5" r="2.75"/><circle cx="177.2" cy="343.5" r="2.75"/><circle cx="186.1" cy="342.6" r="2.75"/><circle cx="197.6" cy="343.5" r="2.75"/><circle cx="170.4" cy="405.1" r="2.75"/><circle cx="174.9" cy="405.8" r="2.75"/><circle cx="176.2" cy="408.3" r="2.75"/><circle cx="171.0" cy="412.8" r="2.75"/><circle cx="176.2" cy="417.3" r="2.75"/><circle cx="187.1" cy="403.8" r="2.75"/><circle cx="188.3" cy="411.5" r="2.75"/><circle cx="189.6" cy="409.6" r="2.75"/><circle cx="187.1" cy="425.0" r="2.75"/><circle cx="174.9" cy="426.9" r="2.75"/><circle cx="176.2" cy="429.5" r="2.75"/><circle cx="192.8" cy="401.9" r="2.75"/><circle cx="196.0" cy="400.6" r="2.75"/><circle cx="171.9" cy="298.0" r="2.75"/><circle cx="162.5" cy="312.7" r="2.75"/><circle cx="166.6" cy="314.0" r="2.75"/><circle cx="191.8" cy="314.5" r="2.75"/><circle cx="167.3" cy="322.0" r="2.75"/><circle cx="165.0" cy="458.1" r="2.75"/><circle cx="173.9" cy="448.8" r="2.75"/><circle cx="165.0" cy="435.0" r="2.75"/><circle cx="168.1" cy="438.5" r="2.75"/><circle cx="198.7" cy="440.5" r="2.75"/><circle cx="193.0" cy="427.1" r="2.75"/><circle cx="168.1" cy="429.6" r="2.75"/><circle cx="169.1" cy="419.8" r="2.75"/><circle cx="164.0" cy="409.5" r="2.75"/><circle cx="163.6" cy="403.3" r="2.75"/><circle cx="195.0" cy="410.5" r="2.75"/></g>
<g fill="#000" fill-opacity="0.6"><circle cx="281.7" cy="371.4" r="2.75"/><circle cx="279.1" cy="371.7" r="2.75"/><circle cx="267.6" cy="371.1" r="2.75"/><circle cx="294.6" cy="366.1" r="2.75"/><circle cx="288.0" cy="364.4" r="2.75"/><circle cx="295.5" cy="397.8" r="2.75"/><circle cx="266.5" cy="377.6" r="2.75"/><circle cx="283.8" cy="395.7" r="2.75"/><circle cx="266.7" cy="357.0" r="2.75"/><circle cx="291.9" cy="371.2" r="2.75"/><circle cx="267.3" cy="390.9" r="2.75"/><circle cx="268.0" cy="352.5" r="2.75"/><circle cx="259.9" cy="362.3" r="2.75"/><circle cx="266.8" cy="375.7" r="2.75"/><circle cx="291.6" cy="379.8" r="2.75"/><circle cx="292.7" cy="372.5" r="2.75"/><circle cx="264.7" cy="373.2" r="2.75"/><circle cx="258.5" cy="351.0" r="2.75"/><circle cx="271.0" cy="391.2" r="2.75"/><circle cx="268.5" cy="360.8" r="2.75"/><circle cx="264.8" cy="362.0" r="2.75"/><circle cx="262.9" cy="373.8" r="2.75"/><circle cx="267.0" cy="386.5" r="2.75"/><circle cx="289.8" cy="384.4" r="2.75"/><circle cx="287.2" cy="360.3" r="2.75"/><circle cx="284.1" cy="356.6" r="2.75"/><circle cx="292.4" cy="366.1" r="2.75"/><circle cx="280.0" cy="375.7" r="2.75"/><circle cx="287.5" cy="359.5" r="2.75"/><circle cx="283.9" cy="360.3" r="2.75"/><circle cx="263.0" cy="388.8" r="2.75"/><circle cx="282.2" cy="394.9" r="2.75"/><circle cx="279.7" cy="346.6" r="2.75"/><circle cx="260.8" cy="366.4" r="2.75"/><circle cx="273.7" cy="358.1" r="2.75"/><circle cx="258.0" cy="353.5" r="2.75"/><circle cx="264.3" cy="354.8" r="2.75"/><circle cx="289.6" cy="370.9" r="2.75"/><circle cx="280.1" cy="395.8" r="2.75"/><circle cx="260.1" cy="359.7" r="2.75"/><circle cx="281.6" cy="362.4" r="2.75"/><circle cx="283.7" cy="398.7" r="2.75"/><circle cx="280.9" cy="359.6" r="2.75"/><circle cx="293.0" cy="387.3" r="2.75"/><circle cx="281.0" cy="381.0" r="2.75"/><circle cx="277.9" cy="346.9" r="2.75"/><circle cx="273.1" cy="367.5" r="2.75"/><circle cx="280.1" cy="389.5" r="2.75"/><circle cx="277.8" cy="378.8" r="2.75"/><circle cx="269.5" cy="345.3" r="2.75"/><circle cx="283.9" cy="357.6" r="2.75"/><circle cx="282.5" cy="369.3" r="2.75"/><circle cx="265.2" cy="354.7" r="2.75"/><circle cx="258.1" cy="382.3" r="2.75"/><circle cx="267.5" cy="383.8" r="2.75"/><circle cx="278.7" cy="350.7" r="2.75"/><circle cx="288.0" cy="366.9" r="2.75"/><circle cx="280.6" cy="373.2" r="2.75"/><circle cx="259.3" cy="371.0" r="2.75"/><circle cx="284.7" cy="388.9" r="2.75"/><circle cx="270.6" cy="348.2" r="2.75"/><circle cx="267.3" cy="373.9" r="2.75"/><circle cx="291.5" cy="379.4" r="2.75"/><circle cx="290.0" cy="347.4" r="2.75"/><circle cx="295.3" cy="355.6" r="2.75"/><circle cx="283.5" cy="372.4" r="2.75"/><circle cx="276.1" cy="391.5" r="2.75"/><circle cx="293.3" cy="380.8" r="2.75"/><circle cx="281.2" cy="355.0" r="2.75"/><circle cx="276.8" cy="366.9" r="2.75"/><circle cx="285.9" cy="349.1" r="2.75"/><circle cx="275.4" cy="383.5" r="2.75"/><circle cx="290.1" cy="350.7" r="2.75"/><circle cx="286.7" cy="366.7" r="2.75"/><circle cx="275.9" cy="386.1" r="2.75"/><circle cx="269.7" cy="395.7" r="2.75"/><circle cx="289.4" cy="354.3" r="2.75"/><circle cx="287.6" cy="364.6" r="2.75"/><circle cx="293.7" cy="380.2" r="2.75"/><circle cx="271.6" cy="374.2" r="2.75"/><circle cx="281.4" cy="364.4" r="2.75"/><circle cx="292.1" cy="375.4" r="2.75"/><circle cx="281.8" cy="356.7" r="2.75"/><circle cx="294.4" cy="358.3" r="2.75"/><circle cx="292.3" cy="356.7" r="2.75"/><circle cx="274.1" cy="347.2" r="2.75"/><circle cx="288.1" cy="360.2" r="2.75"/><circle cx="278.1" cy="351.6" r="2.75"/><circle cx="292.1" cy="384.5" r="2.75"/><circle cx="284.2" cy="377.6" r="2.75"/><circle cx="279.4" cy="396.6" r="2.75"/><circle cx="270.4" cy="379.6" r="2.75"/><circle cx="279.3" cy="375.3" r="2.75"/><circle cx="290.4" cy="386.0" r="2.75"/><circle cx="266.1" cy="371.2" r="2.75"/><circle cx="295.1" cy="390.1" r="2.75"/><circle cx="289.1" cy="357.3" r="2.75"/><circle cx="269.7" cy="386.8" r="2.75"/><circle cx="277.8" cy="349.4" r="2.75"/><circle cx="273.5" cy="391.6" r="2.75"/><circle cx="272.3" cy="353.4" r="2.75"/><circle cx="271.3" cy="383.3" r="2.75"/><circle cx="266.6" cy="380.8" r="2.75"/><circle cx="262.2" cy="375.7" r="2.75"/><circle cx="273.0" cy="367.6" r="2.75"/><circle cx="278.8" cy="308.9" r="2.75"/><circle cx="281.9" cy="317.3" r="2.75"/><circle cx="278.8" cy="325.7" r="2.75"/><circle cx="263.3" cy="329.3" r="2.75"/><circle cx="276.2" cy="331.1" r="2.75"/><circle cx="274.0" cy="335.0" r="2.75"/><circle cx="262.4" cy="338.2" r="2.75"/><circle cx="266.4" cy="338.2" r="2.75"/><circle cx="269.5" cy="341.3" r="2.75"/><circle cx="275.7" cy="340.4" r="2.75"/><circle cx="260.6" cy="343.5" r="2.75"/><circle cx="285.5" cy="334.6" r="2.75"/><circle cx="288.2" cy="336.4" r="2.75"/><circle cx="290.8" cy="334.6" r="2.75"/><circle cx="285.0" cy="339.9" r="2.75"/><circle cx="294.8" cy="339.9" r="2.75"/><circle cx="279.3" cy="342.6" r="2.75"/><circle cx="289.9" cy="343.5" r="2.75"/><circle cx="276.6" cy="341.7" r="2.75"/><circle cx="287.7" cy="339.0" r="2.75"/><circle cx="261.8" cy="402.7" r="2.75"/><circle cx="266.2" cy="407.1" r="2.75"/><circle cx="268.8" cy="408.9" r="2.75"/><circle cx="275.0" cy="409.8" r="2.75"/><circle cx="283.9" cy="413.3" r="2.75"/><circle cx="286.6" cy="412.4" r="2.75"/><circle cx="273.3" cy="403.5" r="2.75"/><circle cx="284.8" cy="402.7" r="2.75"/><circle cx="290.1" cy="401.8" r="2.75"/><circle cx="272.4" cy="431.0" r="2.75"/><circle cx="279.5" cy="438.1" r="2.75"/><circle cx="290.4" cy="298.0" r="2.75"/><circle cx="285.4" cy="301.5" r="2.75"/><circle cx="262.3" cy="308.6" r="2.75"/><circle cx="258.4" cy="315.7" r="2.75"/><circle cx="263.7" cy="314.0" r="2.75"/><circle cx="290.4" cy="307.4" r="2.75"/><circle cx="287.7" cy="314.5" r="2.75"/><circle cx="292.1" cy="314.5" r="2.75"/><circle cx="292.1" cy="322.8" r="2.75"/><circle cx="293.6" cy="329.1" r="2.75"/><circle cx="258.4" cy="331.2" r="2.75"/><circle cx="262.0" cy="328.7" r="2.75"/><circle cx="274.2" cy="486.2" r="2.75"/><circle cx="283.4" cy="457.9" r="2.75"/><circle cx="271.6" cy="449.2" r="2.75"/><circle cx="279.3" cy="438.2" r="2.75"/><circle cx="262.1" cy="430.5" r="2.75"/><circle cx="265.9" cy="426.6" r="2.75"/><circle cx="272.4" cy="431.8" r="2.75"/><circle cx="289.6" cy="434.8" r="2.75"/><circle cx="295.5" cy="428.7" r="2.75"/><circle cx="294.7" cy="433.8" r="2.75"/><circle cx="260.8" cy="412.5" r="2.75"/><circle cx="257.0" cy="403.5" r="2.75"/><circle cx="296.2" cy="407.4" r="2.75"/></g>
<line x1="28.7" y1="289.4" x2="28.7" y2="496.7" stroke="#1f1f1f" stroke-width="1.1"/>
<line x1="28.2" y1="496.2" x2="334.0" y2="496.2" stroke="#1f1f1f" stroke-width="1.1"/>
<line x1="26.4" y1="486.10" x2="28.7" y2="486.10" stroke="#1f1f1f" stroke-width="0.9"/>
<text x="10.70" y="488.85" font-family="Liberation Sans" font-size="7.65" textLength="14.0" lengthAdjust="spacingAndGlyphs" fill="#4d4d4d">0.92</text>
<line x1="26.4" y1="437.85" x2="28.7" y2="437.85" stroke="#1f1f1f" stroke-width="0.9"/>
<text x="10.70" y="440.60" font-family="Liberation Sans" font-size="7.65" textLength="14.0" lengthAdjust="spacingAndGlyphs" fill="#4d4d4d">0.93</text>
<line x1="26.4" y1="389.60" x2="28.7" y2="389.60" stroke="#1f1f1f" stroke-width="0.9"/>
<text x="10.70" y="392.35" font-family="Liberation Sans" font-size="7.65" textLength="14.0" lengthAdjust="spacingAndGlyphs" fill="#4d4d4d">0.94</text>
<line x1="26.4" y1="341.35" x2="28.7" y2="341.35" stroke="#1f1f1f" stroke-width="0.9"/>
<text x="10.70" y="344.10" font-family="Liberation Sans" font-size="7.65" textLength="14.0" lengthAdjust="spacingAndGlyphs" fill="#4d4d4d">0.95</text>
<line x1="26.4" y1="293.10" x2="28.7" y2="293.10" stroke="#1f1f1f" stroke-width="0.9"/>
<text x="10.70" y="295.85" font-family="Liberation Sans" font-size="7.65" textLength="14.0" lengthAdjust="spacingAndGlyphs" fill="#4d4d4d">0.96</text>
<line x1="85.94" y1="496.2" x2="85.94" y2="498.5" stroke="#1f1f1f" stroke-width="0.9"/>
<text x="90.34" y="505.80" font-family="Liberation Sans" font-size="7.3" text-anchor="middle" fill="#4d4d4d">None pleiotropy</text>
<line x1="181.35" y1="496.2" x2="181.35" y2="498.5" stroke="#1f1f1f" stroke-width="0.9"/>
<text x="181.35" y="505.80" font-family="Liberation Sans" font-size="7.3" text-anchor="middle" fill="#4d4d4d">Pleiotropy on all traits</text>
<line x1="276.76" y1="496.2" x2="276.76" y2="498.5" stroke="#1f1f1f" stroke-width="0.9"/>
<text x="276.76" y="505.80" font-family="Liberation Sans" font-size="7.3" text-anchor="middle" fill="#4d4d4d">Pleiotropy on UG production</text>
<text x="532.1" y="281.6" font-family="Liberation Sans" font-weight="bold" font-size="14.6" text-anchor="middle" fill="#000">Frequency of tetraploids</text>
<text x="343.6" y="269.0" font-family="Liberation Sans" font-weight="bold" font-size="14.6" fill="#000">D</text>
<line x1="484.62" y1="291.1" x2="484.62" y2="496.2" stroke="#ff1f1f" stroke-width="1.1" stroke-dasharray="3.5 3.45"/>
<rect x="415.4" y="483.75" width="42.40" height="5.50" rx="2.75" ry="2.75" fill="#000"/>
<rect x="510.7" y="483.75" width="43.30" height="5.50" rx="2.75" ry="2.75" fill="#000"/>
<rect x="606.3" y="483.75" width="42.50" height="5.50" rx="2.75" ry="2.75" fill="#000"/>
<line x1="379.9" y1="289.4" x2="379.9" y2="496.7" stroke="#1f1f1f" stroke-width="1.1"/>
<line x1="379.4" y1="496.2" x2="685.5" y2="496.2" stroke="#1f1f1f" stroke-width="1.1"/>
<line x1="377.59999999999997" y1="486.50" x2="379.9" y2="486.50" stroke="#1f1f1f" stroke-width="0.9"/>
<text x="353.80" y="489.25" font-family="Liberation Sans" font-size="7.65" textLength="22.1" lengthAdjust="spacingAndGlyphs" fill="#4d4d4d">0.0000</text>
<line x1="377.59999999999997" y1="439.48" x2="379.9" y2="439.48" stroke="#1f1f1f" stroke-width="0.9"/>
<text x="353.80" y="442.23" font-family="Liberation Sans" font-size="7.65" textLength="22.1" lengthAdjust="spacingAndGlyphs" fill="#4d4d4d">0.0025</text>
<line x1="377.59999999999997" y1="392.45" x2="379.9" y2="392.45" stroke="#1f1f1f" stroke-width="0.9"/>
<text x="353.80" y="395.20" font-family="Liberation Sans" font-size="7.65" textLength="22.1" lengthAdjust="spacingAndGlyphs" fill="#4d4d4d">0.0050</text>
<line x1="377.59999999999997" y1="345.43" x2="379.9" y2="345.43" stroke="#1f1f1f" stroke-width="0.9"/>
<text x="353.80" y="348.18" font-family="Liberation Sans" font-size="7.65" textLength="22.1" lengthAdjust="spacingAndGlyphs" fill="#4d4d4d">0.0075</text>
<line x1="377.59999999999997" y1="298.40" x2="379.9" y2="298.40" stroke="#1f1f1f" stroke-width="0.9"/>
<text x="353.80" y="301.15" font-family="Liberation Sans" font-size="7.65" textLength="22.1" lengthAdjust="spacingAndGlyphs" fill="#4d4d4d">0.0100</text>
<line x1="437.20" y1="496.2" x2="437.20" y2="498.5" stroke="#1f1f1f" stroke-width="0.9"/>
<text x="441.60" y="505.80" font-family="Liberation Sans" font-size="7.3" text-anchor="middle" fill="#4d4d4d">None pleiotropy</text>
<line x1="532.70" y1="496.2" x2="532.70" y2="498.5" stroke="#1f1f1f" stroke-width="0.9"/>
<text x="532.70" y="505.80" font-family="Liberation Sans" font-size="7.3" text-anchor="middle" fill="#4d4d4d">Pleiotropy on all traits</text>
<line x1="628.20" y1="496.2" x2="628.20" y2="498.5" stroke="#1f1f1f" stroke-width="0.9"/>
<text x="628.20" y="505.80" font-family="Liberation Sans" font-size="7.3" text-anchor="middle" fill="#4d4d4d">Pleiotropy on UG production</text>
</svg>
</body></html>
